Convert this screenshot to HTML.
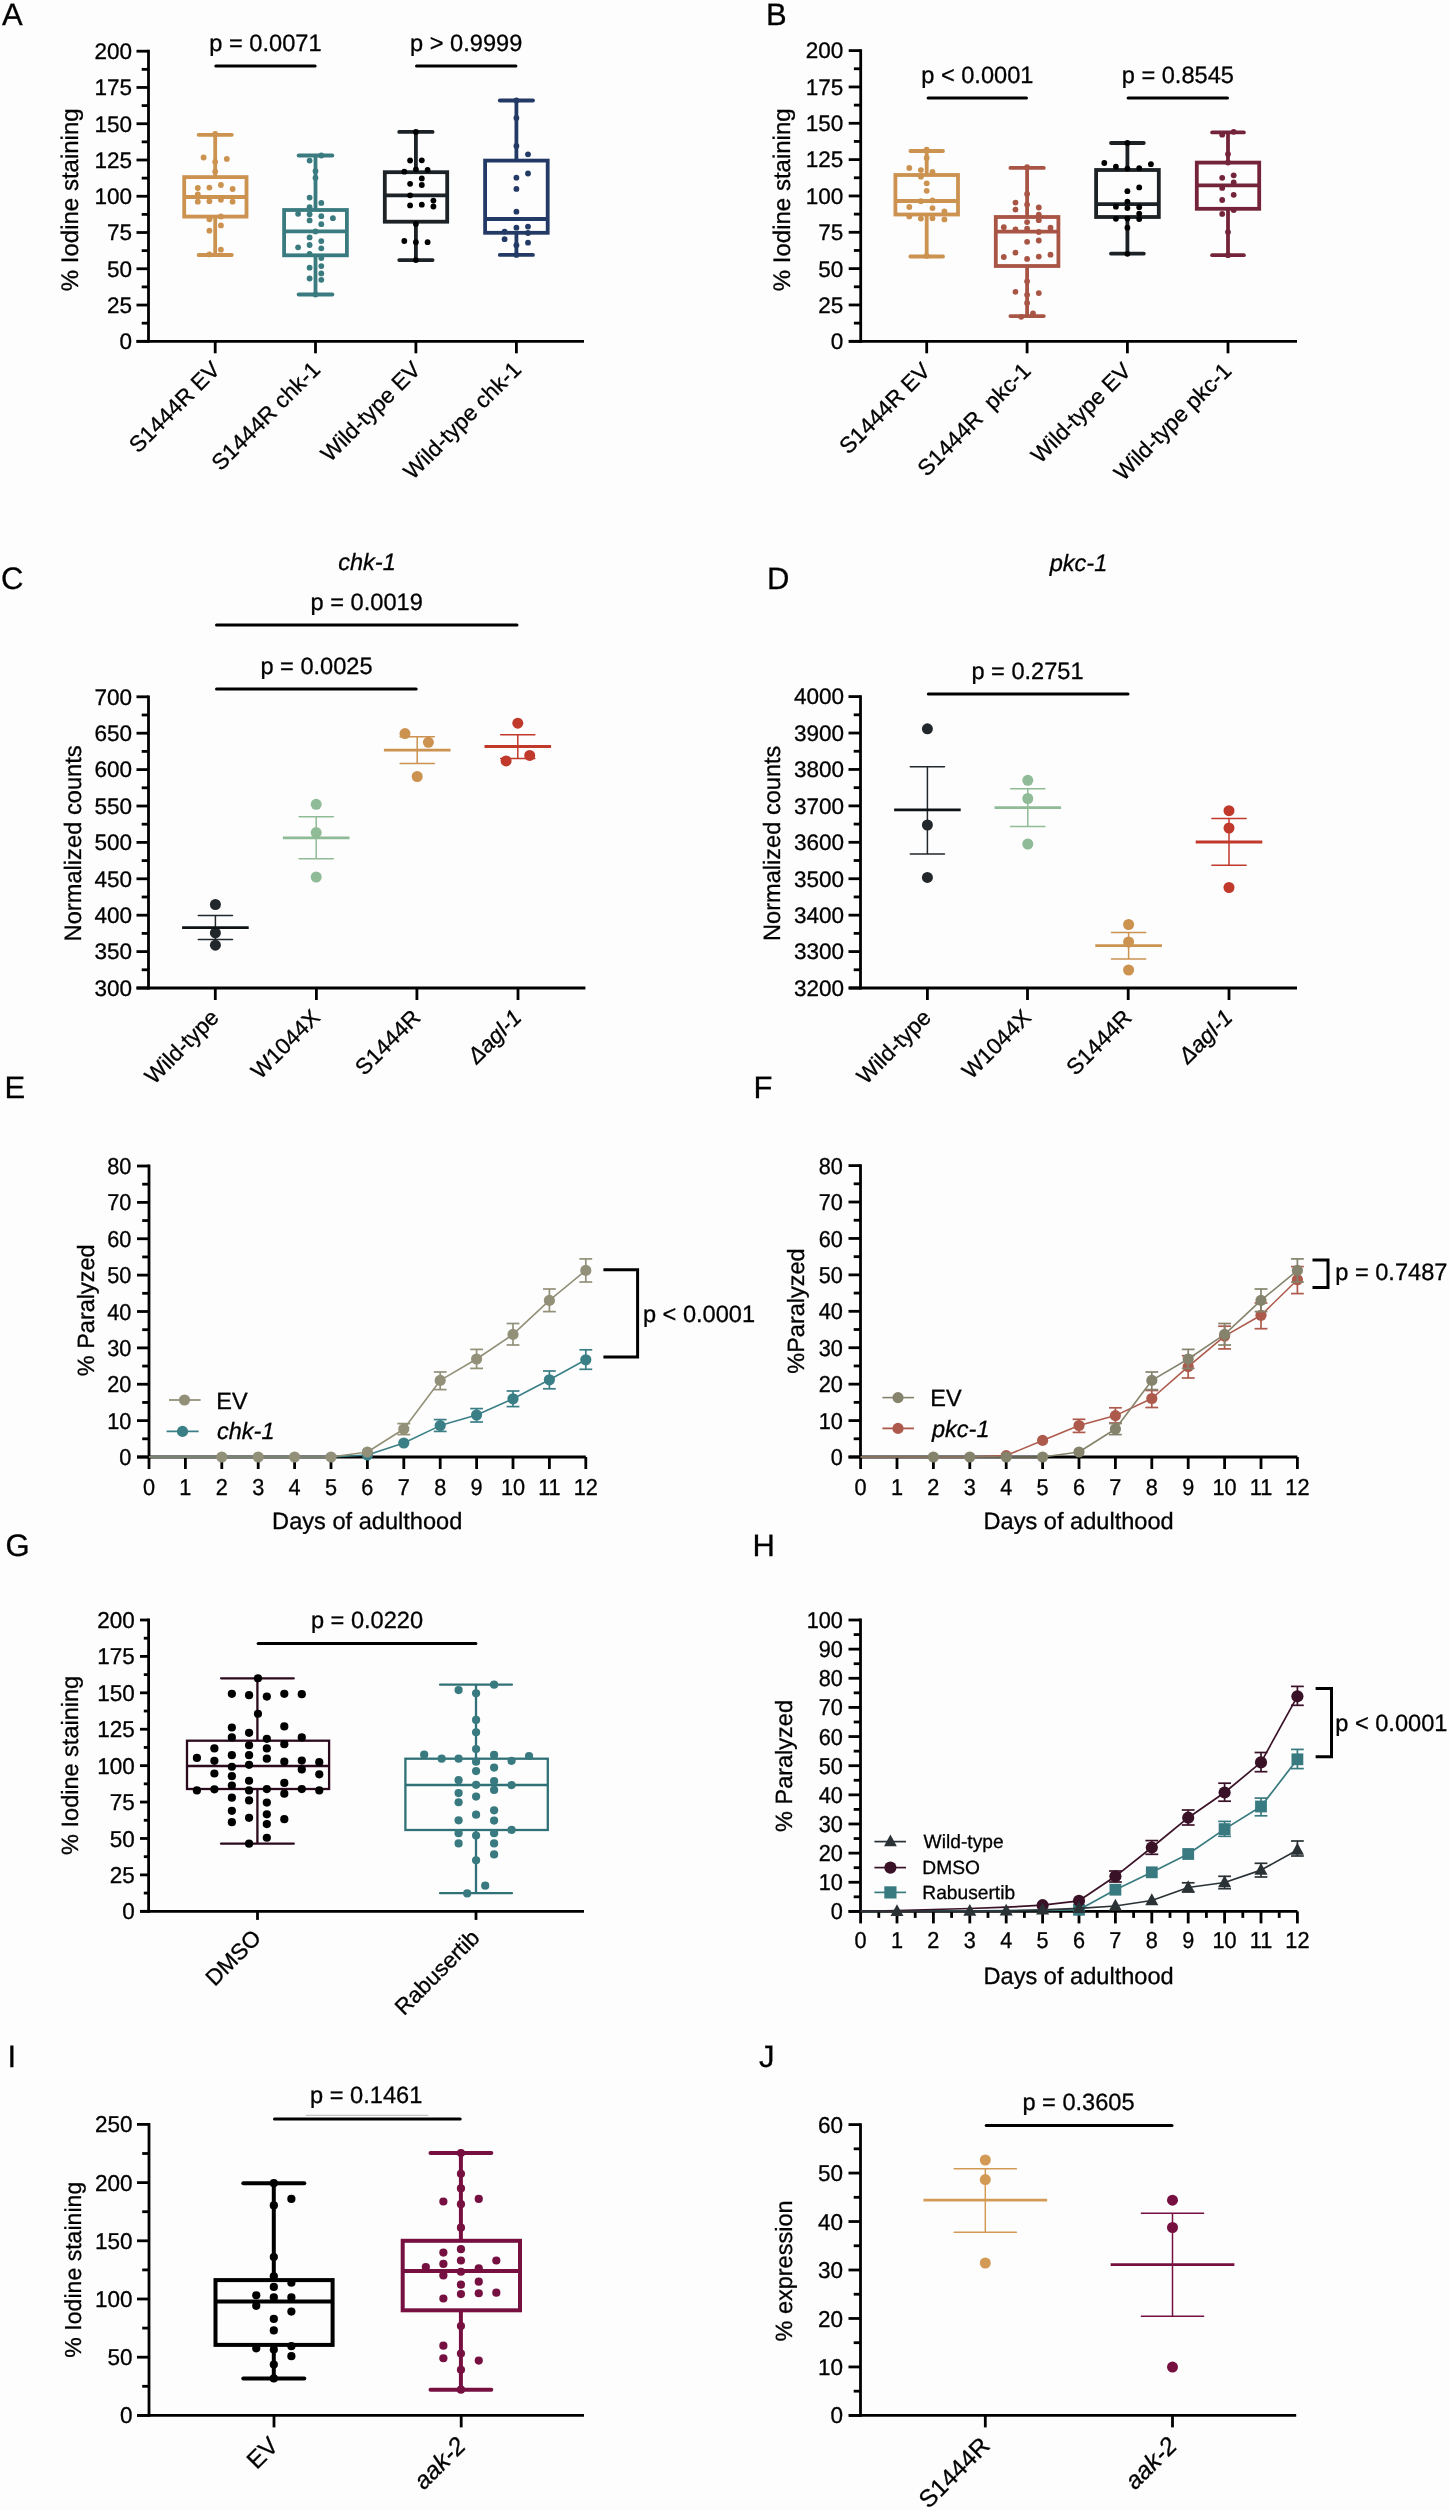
<!DOCTYPE html>
<html><head><meta charset="utf-8"><title>Figure</title>
<style>
html,body{margin:0;padding:0;background:#fdfdfd;}
body{width:1450px;height:2510px;overflow:hidden;}
svg{display:block;font-family:"Liberation Sans",sans-serif;will-change:transform;text-rendering:geometricPrecision;}
</style></head><body>
<svg width="1450" height="2510" viewBox="0 0 1450 2510"><text transform="translate(2 25)" font-size="31" stroke="#000" stroke-width="0.3">A</text>
<line x1="148.5" y1="49.8" x2="148.5" y2="342.7" stroke="#000" stroke-width="2.8"/>
<line x1="136.5" y1="341.3" x2="148.5" y2="341.3" stroke="#000" stroke-width="2.8"/>
<text transform="translate(132 349.18)" font-size="22.5" text-anchor="end" stroke="#000" stroke-width="0.3">0</text>
<line x1="136.5" y1="305.04" x2="148.5" y2="305.04" stroke="#000" stroke-width="2.8"/>
<text transform="translate(132 312.91)" font-size="22.5" text-anchor="end" stroke="#000" stroke-width="0.3">25</text>
<line x1="136.5" y1="268.77" x2="148.5" y2="268.77" stroke="#000" stroke-width="2.8"/>
<text transform="translate(132 276.65)" font-size="22.5" text-anchor="end" stroke="#000" stroke-width="0.3">50</text>
<line x1="136.5" y1="232.51" x2="148.5" y2="232.51" stroke="#000" stroke-width="2.8"/>
<text transform="translate(132 240.39)" font-size="22.5" text-anchor="end" stroke="#000" stroke-width="0.3">75</text>
<line x1="136.5" y1="196.25" x2="148.5" y2="196.25" stroke="#000" stroke-width="2.8"/>
<text transform="translate(132 204.12)" font-size="22.5" text-anchor="end" stroke="#000" stroke-width="0.3">100</text>
<line x1="136.5" y1="159.99" x2="148.5" y2="159.99" stroke="#000" stroke-width="2.8"/>
<text transform="translate(132 167.86)" font-size="22.5" text-anchor="end" stroke="#000" stroke-width="0.3">125</text>
<line x1="136.5" y1="123.73" x2="148.5" y2="123.73" stroke="#000" stroke-width="2.8"/>
<text transform="translate(132 131.6)" font-size="22.5" text-anchor="end" stroke="#000" stroke-width="0.3">150</text>
<line x1="136.5" y1="87.46" x2="148.5" y2="87.46" stroke="#000" stroke-width="2.8"/>
<text transform="translate(132 95.34)" font-size="22.5" text-anchor="end" stroke="#000" stroke-width="0.3">175</text>
<line x1="136.5" y1="51.2" x2="148.5" y2="51.2" stroke="#000" stroke-width="2.8"/>
<text transform="translate(132 59.07)" font-size="22.5" text-anchor="end" stroke="#000" stroke-width="0.3">200</text>
<line x1="141.7" y1="323.17" x2="148.5" y2="323.17" stroke="#000" stroke-width="2.8"/>
<line x1="141.7" y1="286.91" x2="148.5" y2="286.91" stroke="#000" stroke-width="2.8"/>
<line x1="141.7" y1="250.64" x2="148.5" y2="250.64" stroke="#000" stroke-width="2.8"/>
<line x1="141.7" y1="214.38" x2="148.5" y2="214.38" stroke="#000" stroke-width="2.8"/>
<line x1="141.7" y1="178.12" x2="148.5" y2="178.12" stroke="#000" stroke-width="2.8"/>
<line x1="141.7" y1="141.86" x2="148.5" y2="141.86" stroke="#000" stroke-width="2.8"/>
<line x1="141.7" y1="105.59" x2="148.5" y2="105.59" stroke="#000" stroke-width="2.8"/>
<line x1="141.7" y1="69.33" x2="148.5" y2="69.33" stroke="#000" stroke-width="2.8"/>
<line x1="136.5" y1="341.3" x2="584" y2="341.3" stroke="#000" stroke-width="2.8"/>
<line x1="215.2" y1="341.3" x2="215.2" y2="353.3" stroke="#000" stroke-width="2.8"/>
<line x1="315.5" y1="341.3" x2="315.5" y2="353.3" stroke="#000" stroke-width="2.8"/>
<line x1="415.9" y1="341.3" x2="415.9" y2="353.3" stroke="#000" stroke-width="2.8"/>
<line x1="516.4" y1="341.3" x2="516.4" y2="353.3" stroke="#000" stroke-width="2.8"/>
<text transform="translate(78 199.8) rotate(-90)" font-size="24" text-anchor="middle" stroke="#000" stroke-width="0.3">% Iodine staining</text>
<line x1="215.8" y1="66.1" x2="315.1" y2="66.1" stroke="#000" stroke-width="3" stroke-linecap="round"/>
<text transform="translate(265.45 51)" font-size="23.6" text-anchor="middle" stroke="#000" stroke-width="0.3">p = 0.0071</text>
<line x1="416.5" y1="66.1" x2="515.9" y2="66.1" stroke="#000" stroke-width="3" stroke-linecap="round"/>
<text transform="translate(466.2 51)" font-size="23.6" text-anchor="middle" stroke="#000" stroke-width="0.3">p > 0.9999</text>
<line x1="198.6" y1="134.8" x2="231.8" y2="134.8" stroke="#cb9250" stroke-width="3.8" stroke-linecap="round"/>
<line x1="215.2" y1="134.8" x2="215.2" y2="177.1" stroke="#cb9250" stroke-width="3.8"/>
<line x1="215.2" y1="216.6" x2="215.2" y2="255" stroke="#cb9250" stroke-width="3.8"/>
<line x1="198.6" y1="255" x2="231.8" y2="255" stroke="#cb9250" stroke-width="3.8" stroke-linecap="round"/>
<rect x="184.2" y="177.1" width="62.3" height="39.5" fill="none" stroke="#cb9250" stroke-width="3.8"/>
<line x1="184.2" y1="197" x2="246.5" y2="197" stroke="#cb9250" stroke-width="3.8"/>
<circle cx="215.2" cy="133.9" r="2.9" fill="#cb9250"/>
<circle cx="203.6" cy="157.5" r="2.9" fill="#cb9250"/>
<circle cx="226.8" cy="158.9" r="2.9" fill="#cb9250"/>
<circle cx="215.2" cy="161.8" r="2.9" fill="#cb9250"/>
<circle cx="215.2" cy="171.6" r="2.9" fill="#cb9250"/>
<circle cx="197.8" cy="188" r="2.9" fill="#cb9250"/>
<circle cx="209.4" cy="187.6" r="2.9" fill="#cb9250"/>
<circle cx="220.9" cy="185" r="2.9" fill="#cb9250"/>
<circle cx="232.6" cy="189" r="2.9" fill="#cb9250"/>
<circle cx="197.8" cy="194.5" r="2.9" fill="#cb9250"/>
<circle cx="197.8" cy="201.7" r="2.9" fill="#cb9250"/>
<circle cx="209.4" cy="201.2" r="2.9" fill="#cb9250"/>
<circle cx="220.9" cy="199.8" r="2.9" fill="#cb9250"/>
<circle cx="232.6" cy="201.7" r="2.9" fill="#cb9250"/>
<circle cx="209.4" cy="219.3" r="2.9" fill="#cb9250"/>
<circle cx="220.9" cy="216.5" r="2.9" fill="#cb9250"/>
<circle cx="220.9" cy="225.4" r="2.9" fill="#cb9250"/>
<circle cx="209.4" cy="230.7" r="2.9" fill="#cb9250"/>
<circle cx="220.9" cy="249.7" r="2.9" fill="#cb9250"/>
<circle cx="209.4" cy="254.4" r="2.9" fill="#cb9250"/>
<line x1="298.6" y1="155.5" x2="332.4" y2="155.5" stroke="#3a7b80" stroke-width="3.8" stroke-linecap="round"/>
<line x1="315.5" y1="155.5" x2="315.5" y2="210" stroke="#3a7b80" stroke-width="3.8"/>
<line x1="315.5" y1="255.3" x2="315.5" y2="294.5" stroke="#3a7b80" stroke-width="3.8"/>
<line x1="298.6" y1="294.5" x2="332.4" y2="294.5" stroke="#3a7b80" stroke-width="3.8" stroke-linecap="round"/>
<rect x="284.1" y="210" width="62.8" height="45.3" fill="none" stroke="#3a7b80" stroke-width="3.8"/>
<line x1="284.1" y1="231.4" x2="346.9" y2="231.4" stroke="#3a7b80" stroke-width="3.8"/>
<circle cx="321.3" cy="155.5" r="2.9" fill="#3a7b80"/>
<circle cx="309.6" cy="160.6" r="2.9" fill="#3a7b80"/>
<circle cx="315.5" cy="171.1" r="2.9" fill="#3a7b80"/>
<circle cx="315.5" cy="177.8" r="2.9" fill="#3a7b80"/>
<circle cx="309.6" cy="197.6" r="2.9" fill="#3a7b80"/>
<circle cx="321.3" cy="202.9" r="2.9" fill="#3a7b80"/>
<circle cx="309.6" cy="207.2" r="2.9" fill="#3a7b80"/>
<circle cx="298.1" cy="213.8" r="2.9" fill="#3a7b80"/>
<circle cx="309.6" cy="214.2" r="2.9" fill="#3a7b80"/>
<circle cx="321.3" cy="216.2" r="2.9" fill="#3a7b80"/>
<circle cx="332.9" cy="218.2" r="2.9" fill="#3a7b80"/>
<circle cx="309.6" cy="220.4" r="2.9" fill="#3a7b80"/>
<circle cx="321.3" cy="224.2" r="2.9" fill="#3a7b80"/>
<circle cx="315.5" cy="231.4" r="2.9" fill="#3a7b80"/>
<circle cx="309.6" cy="237.4" r="2.9" fill="#3a7b80"/>
<circle cx="321.3" cy="241.1" r="2.9" fill="#3a7b80"/>
<circle cx="309.6" cy="245" r="2.9" fill="#3a7b80"/>
<circle cx="298.1" cy="247.3" r="2.9" fill="#3a7b80"/>
<circle cx="321.3" cy="248.3" r="2.9" fill="#3a7b80"/>
<circle cx="309.6" cy="254" r="2.9" fill="#3a7b80"/>
<circle cx="321.3" cy="258" r="2.9" fill="#3a7b80"/>
<circle cx="309.6" cy="267.7" r="2.9" fill="#3a7b80"/>
<circle cx="321.3" cy="266.1" r="2.9" fill="#3a7b80"/>
<circle cx="321.3" cy="273.4" r="2.9" fill="#3a7b80"/>
<circle cx="309.6" cy="278.5" r="2.9" fill="#3a7b80"/>
<circle cx="321.3" cy="279.8" r="2.9" fill="#3a7b80"/>
<circle cx="315.5" cy="294.5" r="2.9" fill="#3a7b80"/>
<line x1="399.2" y1="131.9" x2="432.6" y2="131.9" stroke="#1c2226" stroke-width="3.8" stroke-linecap="round"/>
<line x1="415.9" y1="131.9" x2="415.9" y2="172.2" stroke="#1c2226" stroke-width="3.8"/>
<line x1="415.9" y1="221.7" x2="415.9" y2="260.1" stroke="#1c2226" stroke-width="3.8"/>
<line x1="399.2" y1="260.1" x2="432.6" y2="260.1" stroke="#1c2226" stroke-width="3.8" stroke-linecap="round"/>
<rect x="384.8" y="172.2" width="62.4" height="49.5" fill="none" stroke="#1c2226" stroke-width="3.8"/>
<line x1="384.8" y1="195.3" x2="447.2" y2="195.3" stroke="#1c2226" stroke-width="3.8"/>
<circle cx="415.9" cy="131.9" r="2.9" fill="#000"/>
<circle cx="410.1" cy="160.5" r="2.9" fill="#000"/>
<circle cx="421.8" cy="160.3" r="2.9" fill="#000"/>
<circle cx="404.3" cy="171.7" r="2.9" fill="#000"/>
<circle cx="415.9" cy="169.3" r="2.9" fill="#000"/>
<circle cx="427.6" cy="169.9" r="2.9" fill="#000"/>
<circle cx="421.8" cy="178.4" r="2.9" fill="#000"/>
<circle cx="410.1" cy="183.8" r="2.9" fill="#000"/>
<circle cx="421.8" cy="185" r="2.9" fill="#000"/>
<circle cx="410.1" cy="195.3" r="2.9" fill="#000"/>
<circle cx="433.4" cy="200.6" r="2.9" fill="#000"/>
<circle cx="410.1" cy="205.4" r="2.9" fill="#000"/>
<circle cx="421.8" cy="204.7" r="2.9" fill="#000"/>
<circle cx="433.4" cy="206.5" r="2.9" fill="#000"/>
<circle cx="415.9" cy="224" r="2.9" fill="#000"/>
<circle cx="404.3" cy="241" r="2.9" fill="#000"/>
<circle cx="415.9" cy="242.2" r="2.9" fill="#000"/>
<circle cx="427.6" cy="242.2" r="2.9" fill="#000"/>
<circle cx="415.9" cy="260.1" r="2.9" fill="#000"/>
<line x1="499.8" y1="100.5" x2="533" y2="100.5" stroke="#243a66" stroke-width="3.8" stroke-linecap="round"/>
<line x1="516.4" y1="100.5" x2="516.4" y2="160.6" stroke="#243a66" stroke-width="3.8"/>
<line x1="516.4" y1="232.8" x2="516.4" y2="254.9" stroke="#243a66" stroke-width="3.8"/>
<line x1="499.8" y1="254.9" x2="533" y2="254.9" stroke="#243a66" stroke-width="3.8" stroke-linecap="round"/>
<rect x="485.1" y="160.6" width="62.6" height="72.2" fill="none" stroke="#243a66" stroke-width="3.8"/>
<line x1="485.1" y1="219" x2="547.7" y2="219" stroke="#243a66" stroke-width="3.8"/>
<circle cx="516.4" cy="100.5" r="2.9" fill="#243a66"/>
<circle cx="516.4" cy="118" r="2.9" fill="#243a66"/>
<circle cx="516.4" cy="145.9" r="2.9" fill="#243a66"/>
<circle cx="528" cy="154.3" r="2.9" fill="#243a66"/>
<circle cx="528" cy="173.5" r="2.9" fill="#243a66"/>
<circle cx="516.4" cy="177.7" r="2.9" fill="#243a66"/>
<circle cx="516.4" cy="188.9" r="2.9" fill="#243a66"/>
<circle cx="516.4" cy="211.7" r="2.9" fill="#243a66"/>
<circle cx="516.4" cy="227.7" r="2.9" fill="#243a66"/>
<circle cx="528" cy="226.6" r="2.9" fill="#243a66"/>
<circle cx="504.6" cy="231.6" r="2.9" fill="#243a66"/>
<circle cx="528" cy="233" r="2.9" fill="#243a66"/>
<circle cx="504.6" cy="239.2" r="2.9" fill="#243a66"/>
<circle cx="516.4" cy="245.2" r="2.9" fill="#243a66"/>
<circle cx="528" cy="242.7" r="2.9" fill="#243a66"/>
<circle cx="516.4" cy="254.9" r="2.9" fill="#243a66"/>
<text transform="translate(221.29 370.89) rotate(-45)" font-size="22.5" text-anchor="end" stroke="#000" stroke-width="0.3">S1444R EV</text>
<text transform="translate(321.59 370.89) rotate(-45)" font-size="22.5" text-anchor="end" stroke="#000" stroke-width="0.3">S1444R chk-1</text>
<text transform="translate(421.99 370.89) rotate(-45)" font-size="22.5" text-anchor="end" stroke="#000" stroke-width="0.3">Wild-type EV</text>
<text transform="translate(522.49 370.89) rotate(-45)" font-size="22.5" text-anchor="end" stroke="#000" stroke-width="0.3">Wild-type chk-1</text>
<text transform="translate(766 25)" font-size="31" stroke="#000" stroke-width="0.3">B</text>
<line x1="860.7" y1="49.2" x2="860.7" y2="342.7" stroke="#000" stroke-width="2.8"/>
<line x1="848.7" y1="341.3" x2="860.7" y2="341.3" stroke="#000" stroke-width="2.8"/>
<text transform="translate(843.3 349.18)" font-size="22.5" text-anchor="end" stroke="#000" stroke-width="0.3">0</text>
<line x1="848.7" y1="304.96" x2="860.7" y2="304.96" stroke="#000" stroke-width="2.8"/>
<text transform="translate(843.3 312.84)" font-size="22.5" text-anchor="end" stroke="#000" stroke-width="0.3">25</text>
<line x1="848.7" y1="268.62" x2="860.7" y2="268.62" stroke="#000" stroke-width="2.8"/>
<text transform="translate(843.3 276.5)" font-size="22.5" text-anchor="end" stroke="#000" stroke-width="0.3">50</text>
<line x1="848.7" y1="232.29" x2="860.7" y2="232.29" stroke="#000" stroke-width="2.8"/>
<text transform="translate(843.3 240.16)" font-size="22.5" text-anchor="end" stroke="#000" stroke-width="0.3">75</text>
<line x1="848.7" y1="195.95" x2="860.7" y2="195.95" stroke="#000" stroke-width="2.8"/>
<text transform="translate(843.3 203.83)" font-size="22.5" text-anchor="end" stroke="#000" stroke-width="0.3">100</text>
<line x1="848.7" y1="159.61" x2="860.7" y2="159.61" stroke="#000" stroke-width="2.8"/>
<text transform="translate(843.3 167.49)" font-size="22.5" text-anchor="end" stroke="#000" stroke-width="0.3">125</text>
<line x1="848.7" y1="123.28" x2="860.7" y2="123.28" stroke="#000" stroke-width="2.8"/>
<text transform="translate(843.3 131.15)" font-size="22.5" text-anchor="end" stroke="#000" stroke-width="0.3">150</text>
<line x1="848.7" y1="86.94" x2="860.7" y2="86.94" stroke="#000" stroke-width="2.8"/>
<text transform="translate(843.3 94.81)" font-size="22.5" text-anchor="end" stroke="#000" stroke-width="0.3">175</text>
<line x1="848.7" y1="50.6" x2="860.7" y2="50.6" stroke="#000" stroke-width="2.8"/>
<text transform="translate(843.3 58.48)" font-size="22.5" text-anchor="end" stroke="#000" stroke-width="0.3">200</text>
<line x1="853.9" y1="323.13" x2="860.7" y2="323.13" stroke="#000" stroke-width="2.8"/>
<line x1="853.9" y1="286.79" x2="860.7" y2="286.79" stroke="#000" stroke-width="2.8"/>
<line x1="853.9" y1="250.46" x2="860.7" y2="250.46" stroke="#000" stroke-width="2.8"/>
<line x1="853.9" y1="214.12" x2="860.7" y2="214.12" stroke="#000" stroke-width="2.8"/>
<line x1="853.9" y1="177.78" x2="860.7" y2="177.78" stroke="#000" stroke-width="2.8"/>
<line x1="853.9" y1="141.44" x2="860.7" y2="141.44" stroke="#000" stroke-width="2.8"/>
<line x1="853.9" y1="105.11" x2="860.7" y2="105.11" stroke="#000" stroke-width="2.8"/>
<line x1="853.9" y1="68.77" x2="860.7" y2="68.77" stroke="#000" stroke-width="2.8"/>
<line x1="848.8" y1="341.3" x2="1297" y2="341.3" stroke="#000" stroke-width="2.8"/>
<line x1="926.7" y1="341.3" x2="926.7" y2="353.3" stroke="#000" stroke-width="2.8"/>
<line x1="1027.1" y1="341.3" x2="1027.1" y2="353.3" stroke="#000" stroke-width="2.8"/>
<line x1="1127.4" y1="341.3" x2="1127.4" y2="353.3" stroke="#000" stroke-width="2.8"/>
<line x1="1228" y1="341.3" x2="1228" y2="353.3" stroke="#000" stroke-width="2.8"/>
<text transform="translate(790 199.8) rotate(-90)" font-size="24" text-anchor="middle" stroke="#000" stroke-width="0.3">% Iodine staining</text>
<line x1="928.1" y1="98" x2="1026.5" y2="98" stroke="#000" stroke-width="3" stroke-linecap="round"/>
<text transform="translate(977.3 83.3)" font-size="23.6" text-anchor="middle" stroke="#000" stroke-width="0.3">p &lt; 0.0001</text>
<line x1="1128.1" y1="98" x2="1227.5" y2="98" stroke="#000" stroke-width="3" stroke-linecap="round"/>
<text transform="translate(1177.8 83.3)" font-size="23.6" text-anchor="middle" stroke="#000" stroke-width="0.3">p = 0.8545</text>
<line x1="910.4" y1="151" x2="943" y2="151" stroke="#cb9250" stroke-width="3.8" stroke-linecap="round"/>
<line x1="926.7" y1="151" x2="926.7" y2="175" stroke="#cb9250" stroke-width="3.8"/>
<line x1="926.7" y1="214.5" x2="926.7" y2="256.5" stroke="#cb9250" stroke-width="3.8"/>
<line x1="910.4" y1="256.5" x2="943" y2="256.5" stroke="#cb9250" stroke-width="3.8" stroke-linecap="round"/>
<rect x="895.4" y="175" width="62.6" height="39.5" fill="none" stroke="#cb9250" stroke-width="3.8"/>
<line x1="895.4" y1="201" x2="958" y2="201" stroke="#cb9250" stroke-width="3.8"/>
<circle cx="926.7" cy="149.7" r="2.9" fill="#cb9250"/>
<circle cx="926.7" cy="157.9" r="2.9" fill="#cb9250"/>
<circle cx="909.3" cy="168" r="2.9" fill="#cb9250"/>
<circle cx="920.9" cy="170.1" r="2.9" fill="#cb9250"/>
<circle cx="932.5" cy="172" r="2.9" fill="#cb9250"/>
<circle cx="920.9" cy="176.7" r="2.9" fill="#cb9250"/>
<circle cx="926.7" cy="183.3" r="2.9" fill="#cb9250"/>
<circle cx="926.7" cy="190.8" r="2.9" fill="#cb9250"/>
<circle cx="920.9" cy="201.2" r="2.9" fill="#cb9250"/>
<circle cx="932.5" cy="200.4" r="2.9" fill="#cb9250"/>
<circle cx="909.3" cy="207" r="2.9" fill="#cb9250"/>
<circle cx="932.5" cy="208.1" r="2.9" fill="#cb9250"/>
<circle cx="944.4" cy="211.4" r="2.9" fill="#cb9250"/>
<circle cx="909.3" cy="216.4" r="2.9" fill="#cb9250"/>
<circle cx="920.9" cy="218.6" r="2.9" fill="#cb9250"/>
<circle cx="932.5" cy="218.3" r="2.9" fill="#cb9250"/>
<circle cx="944.4" cy="219.4" r="2.9" fill="#cb9250"/>
<circle cx="926.7" cy="255.9" r="2.9" fill="#cb9250"/>
<line x1="1010.4" y1="167.9" x2="1043.8" y2="167.9" stroke="#a85545" stroke-width="3.8" stroke-linecap="round"/>
<line x1="1027.1" y1="167.9" x2="1027.1" y2="217" stroke="#a85545" stroke-width="3.8"/>
<line x1="1027.1" y1="266" x2="1027.1" y2="316.1" stroke="#a85545" stroke-width="3.8"/>
<line x1="1010.4" y1="316.1" x2="1043.8" y2="316.1" stroke="#a85545" stroke-width="3.8" stroke-linecap="round"/>
<rect x="995.8" y="217" width="62.6" height="49" fill="none" stroke="#a85545" stroke-width="3.8"/>
<line x1="995.8" y1="231.7" x2="1058.4" y2="231.7" stroke="#a85545" stroke-width="3.8"/>
<circle cx="1027.1" cy="167.2" r="2.9" fill="#a85545"/>
<circle cx="1027.1" cy="193.9" r="2.9" fill="#a85545"/>
<circle cx="1015.5" cy="202.6" r="2.9" fill="#a85545"/>
<circle cx="1027.1" cy="204.6" r="2.9" fill="#a85545"/>
<circle cx="1038.8" cy="207.5" r="2.9" fill="#a85545"/>
<circle cx="1015.5" cy="209.6" r="2.9" fill="#a85545"/>
<circle cx="1038.8" cy="214.6" r="2.9" fill="#a85545"/>
<circle cx="1038.8" cy="220.2" r="2.9" fill="#a85545"/>
<circle cx="1027.1" cy="222.1" r="2.9" fill="#a85545"/>
<circle cx="1003.8" cy="227.2" r="2.9" fill="#a85545"/>
<circle cx="1015.5" cy="229.4" r="2.9" fill="#a85545"/>
<circle cx="1027.1" cy="228.7" r="2.9" fill="#a85545"/>
<circle cx="1050.5" cy="227.7" r="2.9" fill="#a85545"/>
<circle cx="1038.8" cy="232" r="2.9" fill="#a85545"/>
<circle cx="1027.1" cy="241.8" r="2.9" fill="#a85545"/>
<circle cx="1038.8" cy="240.5" r="2.9" fill="#a85545"/>
<circle cx="1015.5" cy="252.7" r="2.9" fill="#a85545"/>
<circle cx="1003.8" cy="257" r="2.9" fill="#a85545"/>
<circle cx="1027.1" cy="258.9" r="2.9" fill="#a85545"/>
<circle cx="1038.8" cy="256.6" r="2.9" fill="#a85545"/>
<circle cx="1050.5" cy="254.7" r="2.9" fill="#a85545"/>
<circle cx="1027.1" cy="281.3" r="2.9" fill="#a85545"/>
<circle cx="1015.5" cy="291.8" r="2.9" fill="#a85545"/>
<circle cx="1038.8" cy="293.1" r="2.9" fill="#a85545"/>
<circle cx="1027.1" cy="294.8" r="2.9" fill="#a85545"/>
<circle cx="1027.1" cy="303" r="2.9" fill="#a85545"/>
<circle cx="1033" cy="313.5" r="2.9" fill="#a85545"/>
<circle cx="1021.2" cy="316.8" r="2.9" fill="#a85545"/>
<line x1="1111" y1="143" x2="1143.8" y2="143" stroke="#1c2226" stroke-width="3.8" stroke-linecap="round"/>
<line x1="1127.4" y1="143" x2="1127.4" y2="170" stroke="#1c2226" stroke-width="3.8"/>
<line x1="1127.4" y1="217" x2="1127.4" y2="253.6" stroke="#1c2226" stroke-width="3.8"/>
<line x1="1111" y1="253.6" x2="1143.8" y2="253.6" stroke="#1c2226" stroke-width="3.8" stroke-linecap="round"/>
<rect x="1096.1" y="170" width="62.7" height="47" fill="none" stroke="#1c2226" stroke-width="3.8"/>
<line x1="1096.1" y1="204.2" x2="1158.8" y2="204.2" stroke="#1c2226" stroke-width="3.8"/>
<circle cx="1127.4" cy="143" r="2.9" fill="#000"/>
<circle cx="1104.3" cy="163" r="2.9" fill="#000"/>
<circle cx="1115.9" cy="166.7" r="2.9" fill="#000"/>
<circle cx="1127.4" cy="168.6" r="2.9" fill="#000"/>
<circle cx="1139.2" cy="168.1" r="2.9" fill="#000"/>
<circle cx="1150.9" cy="164.2" r="2.9" fill="#000"/>
<circle cx="1139.2" cy="187.4" r="2.9" fill="#000"/>
<circle cx="1127.4" cy="191.2" r="2.9" fill="#000"/>
<circle cx="1127.4" cy="201.7" r="2.9" fill="#000"/>
<circle cx="1115.9" cy="206.7" r="2.9" fill="#000"/>
<circle cx="1127.4" cy="208.1" r="2.9" fill="#000"/>
<circle cx="1139.2" cy="207.2" r="2.9" fill="#000"/>
<circle cx="1139.2" cy="213.6" r="2.9" fill="#000"/>
<circle cx="1115.9" cy="218.8" r="2.9" fill="#000"/>
<circle cx="1127.4" cy="218.6" r="2.9" fill="#000"/>
<circle cx="1139.2" cy="219.1" r="2.9" fill="#000"/>
<circle cx="1127.4" cy="227.7" r="2.9" fill="#000"/>
<circle cx="1127.4" cy="253.9" r="2.9" fill="#000"/>
<line x1="1212.1" y1="132.4" x2="1243.9" y2="132.4" stroke="#74243a" stroke-width="3.8" stroke-linecap="round"/>
<line x1="1228" y1="132.4" x2="1228" y2="162.6" stroke="#74243a" stroke-width="3.8"/>
<line x1="1228" y1="208.8" x2="1228" y2="255.2" stroke="#74243a" stroke-width="3.8"/>
<line x1="1212.1" y1="255.2" x2="1243.9" y2="255.2" stroke="#74243a" stroke-width="3.8" stroke-linecap="round"/>
<rect x="1196.8" y="162.6" width="62.4" height="46.2" fill="none" stroke="#74243a" stroke-width="3.8"/>
<line x1="1196.8" y1="185.3" x2="1259.2" y2="185.3" stroke="#74243a" stroke-width="3.8"/>
<circle cx="1233.7" cy="131.8" r="2.9" fill="#74243a"/>
<circle cx="1222.2" cy="134.7" r="2.9" fill="#74243a"/>
<circle cx="1228" cy="154.1" r="2.9" fill="#74243a"/>
<circle cx="1228" cy="162.5" r="2.9" fill="#74243a"/>
<circle cx="1222.2" cy="177.8" r="2.9" fill="#74243a"/>
<circle cx="1233.7" cy="175.3" r="2.9" fill="#74243a"/>
<circle cx="1233.7" cy="182.4" r="2.9" fill="#74243a"/>
<circle cx="1222.2" cy="187.9" r="2.9" fill="#74243a"/>
<circle cx="1233.7" cy="194.8" r="2.9" fill="#74243a"/>
<circle cx="1222.2" cy="200" r="2.9" fill="#74243a"/>
<circle cx="1222.2" cy="213.9" r="2.9" fill="#74243a"/>
<circle cx="1233.7" cy="210.1" r="2.9" fill="#74243a"/>
<circle cx="1228" cy="232.1" r="2.9" fill="#74243a"/>
<circle cx="1228" cy="255.2" r="2.9" fill="#74243a"/>
<text transform="translate(931.59 372.19) rotate(-45)" font-size="22.5" text-anchor="end" stroke="#000" stroke-width="0.3">S1444R EV</text>
<text transform="translate(1031.99 372.19) rotate(-45)" font-size="22.5" text-anchor="end" stroke="#000" stroke-width="0.3">S1444R&#160; pkc-1</text>
<text transform="translate(1132.29 372.19) rotate(-45)" font-size="22.5" text-anchor="end" stroke="#000" stroke-width="0.3">Wild-type EV</text>
<text transform="translate(1232.89 372.19) rotate(-45)" font-size="22.5" text-anchor="end" stroke="#000" stroke-width="0.3">Wild-type pkc-1</text>
<text transform="translate(1 589)" font-size="31" stroke="#000" stroke-width="0.3">C</text>
<line x1="148.5" y1="695.4" x2="148.5" y2="989.4" stroke="#000" stroke-width="2.8"/>
<line x1="136.5" y1="988" x2="148.5" y2="988" stroke="#000" stroke-width="2.8"/>
<text transform="translate(132 995.88)" font-size="22.5" text-anchor="end" stroke="#000" stroke-width="0.3">300</text>
<line x1="136.5" y1="951.6" x2="148.5" y2="951.6" stroke="#000" stroke-width="2.8"/>
<text transform="translate(132 959.48)" font-size="22.5" text-anchor="end" stroke="#000" stroke-width="0.3">350</text>
<line x1="136.5" y1="915.2" x2="148.5" y2="915.2" stroke="#000" stroke-width="2.8"/>
<text transform="translate(132 923.08)" font-size="22.5" text-anchor="end" stroke="#000" stroke-width="0.3">400</text>
<line x1="136.5" y1="878.8" x2="148.5" y2="878.8" stroke="#000" stroke-width="2.8"/>
<text transform="translate(132 886.67)" font-size="22.5" text-anchor="end" stroke="#000" stroke-width="0.3">450</text>
<line x1="136.5" y1="842.4" x2="148.5" y2="842.4" stroke="#000" stroke-width="2.8"/>
<text transform="translate(132 850.27)" font-size="22.5" text-anchor="end" stroke="#000" stroke-width="0.3">500</text>
<line x1="136.5" y1="806" x2="148.5" y2="806" stroke="#000" stroke-width="2.8"/>
<text transform="translate(132 813.88)" font-size="22.5" text-anchor="end" stroke="#000" stroke-width="0.3">550</text>
<line x1="136.5" y1="769.6" x2="148.5" y2="769.6" stroke="#000" stroke-width="2.8"/>
<text transform="translate(132 777.47)" font-size="22.5" text-anchor="end" stroke="#000" stroke-width="0.3">600</text>
<line x1="136.5" y1="733.2" x2="148.5" y2="733.2" stroke="#000" stroke-width="2.8"/>
<text transform="translate(132 741.07)" font-size="22.5" text-anchor="end" stroke="#000" stroke-width="0.3">650</text>
<line x1="136.5" y1="696.8" x2="148.5" y2="696.8" stroke="#000" stroke-width="2.8"/>
<text transform="translate(132 704.67)" font-size="22.5" text-anchor="end" stroke="#000" stroke-width="0.3">700</text>
<line x1="141.7" y1="969.8" x2="148.5" y2="969.8" stroke="#000" stroke-width="2.8"/>
<line x1="141.7" y1="933.4" x2="148.5" y2="933.4" stroke="#000" stroke-width="2.8"/>
<line x1="141.7" y1="897" x2="148.5" y2="897" stroke="#000" stroke-width="2.8"/>
<line x1="141.7" y1="860.6" x2="148.5" y2="860.6" stroke="#000" stroke-width="2.8"/>
<line x1="141.7" y1="824.2" x2="148.5" y2="824.2" stroke="#000" stroke-width="2.8"/>
<line x1="141.7" y1="787.8" x2="148.5" y2="787.8" stroke="#000" stroke-width="2.8"/>
<line x1="141.7" y1="751.4" x2="148.5" y2="751.4" stroke="#000" stroke-width="2.8"/>
<line x1="141.7" y1="715" x2="148.5" y2="715" stroke="#000" stroke-width="2.8"/>
<line x1="136.5" y1="988" x2="585.4" y2="988" stroke="#000" stroke-width="2.8"/>
<line x1="215.3" y1="988" x2="215.3" y2="1000" stroke="#000" stroke-width="2.8"/>
<line x1="316.4" y1="988" x2="316.4" y2="1000" stroke="#000" stroke-width="2.8"/>
<line x1="416.9" y1="988" x2="416.9" y2="1000" stroke="#000" stroke-width="2.8"/>
<line x1="518" y1="988" x2="518" y2="1000" stroke="#000" stroke-width="2.8"/>
<text transform="translate(81 843.4) rotate(-90)" font-size="23.7" text-anchor="middle" stroke="#000" stroke-width="0.3">Normalized counts</text>
<text transform="translate(367 569.7)" font-size="23.6" text-anchor="middle" font-style="italic" stroke="#000" stroke-width="0.3">chk-1</text>
<line x1="216.5" y1="625" x2="517" y2="625" stroke="#000" stroke-width="3" stroke-linecap="round"/>
<text transform="translate(366.7 610)" font-size="23.6" text-anchor="middle" stroke="#000" stroke-width="0.3">p = 0.0019</text>
<line x1="216.5" y1="689" x2="416.2" y2="689" stroke="#000" stroke-width="3" stroke-linecap="round"/>
<text transform="translate(316.5 673.5)" font-size="23.6" text-anchor="middle" stroke="#000" stroke-width="0.3">p = 0.0025</text>
<line x1="215.4" y1="915.5" x2="215.4" y2="939.5" stroke="#22272b" stroke-width="1.5"/>
<line x1="198.3" y1="915.5" x2="232.5" y2="915.5" stroke="#22272b" stroke-width="1.5" stroke-linecap="round"/>
<line x1="198.3" y1="939.5" x2="232.5" y2="939.5" stroke="#22272b" stroke-width="1.5" stroke-linecap="round"/>
<circle cx="215.4" cy="904.5" r="5.5" fill="#22272b"/>
<circle cx="215.4" cy="932.9" r="5.5" fill="#22272b"/>
<circle cx="215.4" cy="945.2" r="5.5" fill="#22272b"/>
<line x1="182.1" y1="927.6" x2="248.7" y2="927.6" stroke="#0d1215" stroke-width="2.8"/>
<line x1="316.2" y1="816.7" x2="316.2" y2="858.8" stroke="#8fbb96" stroke-width="1.5"/>
<line x1="299.1" y1="816.7" x2="333.3" y2="816.7" stroke="#8fbb96" stroke-width="1.5" stroke-linecap="round"/>
<line x1="299.1" y1="858.8" x2="333.3" y2="858.8" stroke="#8fbb96" stroke-width="1.5" stroke-linecap="round"/>
<circle cx="316.2" cy="804.3" r="5.5" fill="#8fbb96"/>
<circle cx="316.2" cy="832.6" r="5.5" fill="#8fbb96"/>
<circle cx="316.2" cy="877" r="5.5" fill="#8fbb96"/>
<line x1="282.9" y1="837.8" x2="349.5" y2="837.8" stroke="#8fbb96" stroke-width="2.8"/>
<line x1="417.2" y1="736.8" x2="417.2" y2="763.4" stroke="#cb9250" stroke-width="1.5"/>
<line x1="400.1" y1="736.8" x2="434.3" y2="736.8" stroke="#cb9250" stroke-width="1.5" stroke-linecap="round"/>
<line x1="400.1" y1="763.4" x2="434.3" y2="763.4" stroke="#cb9250" stroke-width="1.5" stroke-linecap="round"/>
<circle cx="405" cy="733.6" r="5.5" fill="#cb9250"/>
<circle cx="428.4" cy="742.3" r="5.5" fill="#cb9250"/>
<circle cx="417.2" cy="776.5" r="5.5" fill="#cb9250"/>
<line x1="383.9" y1="750.2" x2="450.5" y2="750.2" stroke="#cb9250" stroke-width="2.8"/>
<line x1="517.8" y1="734.8" x2="517.8" y2="758.4" stroke="#c0392b" stroke-width="1.5"/>
<line x1="500.7" y1="734.8" x2="534.9" y2="734.8" stroke="#c0392b" stroke-width="1.5" stroke-linecap="round"/>
<line x1="500.7" y1="758.4" x2="534.9" y2="758.4" stroke="#c0392b" stroke-width="1.5" stroke-linecap="round"/>
<circle cx="517.8" cy="723.2" r="5.5" fill="#c0392b"/>
<circle cx="506.1" cy="760.9" r="5.5" fill="#c0392b"/>
<circle cx="529.7" cy="755.4" r="5.5" fill="#c0392b"/>
<line x1="484.5" y1="746.5" x2="551.1" y2="746.5" stroke="#c0392b" stroke-width="2.8"/>
<text transform="translate(220.19 1018.89) rotate(-45)" font-size="22.5" text-anchor="end" stroke="#000" stroke-width="0.3">Wild-type</text>
<text transform="translate(321.29 1018.89) rotate(-45)" font-size="22.5" text-anchor="end" stroke="#000" stroke-width="0.3">W1044X</text>
<text transform="translate(421.79 1018.89) rotate(-45)" font-size="22.5" text-anchor="end" stroke="#000" stroke-width="0.3">S1444R</text>
<text transform="translate(522.89 1018.89) rotate(-45)" font-size="22.5" text-anchor="end" stroke="#000" stroke-width="0.3"><tspan font-style="italic">&#916;agl-1</tspan></text>
<text transform="translate(767 589)" font-size="31" stroke="#000" stroke-width="0.3">D</text>
<line x1="860.5" y1="695.2" x2="860.5" y2="989.4" stroke="#000" stroke-width="2.8"/>
<line x1="848.5" y1="988" x2="860.5" y2="988" stroke="#000" stroke-width="2.8"/>
<text transform="translate(844 995.88)" font-size="22.5" text-anchor="end" stroke="#000" stroke-width="0.3">3200</text>
<line x1="848.5" y1="951.58" x2="860.5" y2="951.58" stroke="#000" stroke-width="2.8"/>
<text transform="translate(844 959.45)" font-size="22.5" text-anchor="end" stroke="#000" stroke-width="0.3">3300</text>
<line x1="848.5" y1="915.15" x2="860.5" y2="915.15" stroke="#000" stroke-width="2.8"/>
<text transform="translate(844 923.02)" font-size="22.5" text-anchor="end" stroke="#000" stroke-width="0.3">3400</text>
<line x1="848.5" y1="878.73" x2="860.5" y2="878.73" stroke="#000" stroke-width="2.8"/>
<text transform="translate(844 886.6)" font-size="22.5" text-anchor="end" stroke="#000" stroke-width="0.3">3500</text>
<line x1="848.5" y1="842.3" x2="860.5" y2="842.3" stroke="#000" stroke-width="2.8"/>
<text transform="translate(844 850.17)" font-size="22.5" text-anchor="end" stroke="#000" stroke-width="0.3">3600</text>
<line x1="848.5" y1="805.88" x2="860.5" y2="805.88" stroke="#000" stroke-width="2.8"/>
<text transform="translate(844 813.75)" font-size="22.5" text-anchor="end" stroke="#000" stroke-width="0.3">3700</text>
<line x1="848.5" y1="769.45" x2="860.5" y2="769.45" stroke="#000" stroke-width="2.8"/>
<text transform="translate(844 777.33)" font-size="22.5" text-anchor="end" stroke="#000" stroke-width="0.3">3800</text>
<line x1="848.5" y1="733.03" x2="860.5" y2="733.03" stroke="#000" stroke-width="2.8"/>
<text transform="translate(844 740.9)" font-size="22.5" text-anchor="end" stroke="#000" stroke-width="0.3">3900</text>
<line x1="848.5" y1="696.6" x2="860.5" y2="696.6" stroke="#000" stroke-width="2.8"/>
<text transform="translate(844 704.48)" font-size="22.5" text-anchor="end" stroke="#000" stroke-width="0.3">4000</text>
<line x1="853.7" y1="969.79" x2="860.5" y2="969.79" stroke="#000" stroke-width="2.8"/>
<line x1="853.7" y1="933.36" x2="860.5" y2="933.36" stroke="#000" stroke-width="2.8"/>
<line x1="853.7" y1="896.94" x2="860.5" y2="896.94" stroke="#000" stroke-width="2.8"/>
<line x1="853.7" y1="860.51" x2="860.5" y2="860.51" stroke="#000" stroke-width="2.8"/>
<line x1="853.7" y1="824.09" x2="860.5" y2="824.09" stroke="#000" stroke-width="2.8"/>
<line x1="853.7" y1="787.66" x2="860.5" y2="787.66" stroke="#000" stroke-width="2.8"/>
<line x1="853.7" y1="751.24" x2="860.5" y2="751.24" stroke="#000" stroke-width="2.8"/>
<line x1="853.7" y1="714.81" x2="860.5" y2="714.81" stroke="#000" stroke-width="2.8"/>
<line x1="848.8" y1="988" x2="1297" y2="988" stroke="#000" stroke-width="2.8"/>
<line x1="927.4" y1="988" x2="927.4" y2="1000" stroke="#000" stroke-width="2.8"/>
<line x1="1027.5" y1="988" x2="1027.5" y2="1000" stroke="#000" stroke-width="2.8"/>
<line x1="1128.2" y1="988" x2="1128.2" y2="1000" stroke="#000" stroke-width="2.8"/>
<line x1="1229" y1="988" x2="1229" y2="1000" stroke="#000" stroke-width="2.8"/>
<text transform="translate(780 843.3) rotate(-90)" font-size="23.6" text-anchor="middle" stroke="#000" stroke-width="0.3">Normalized counts</text>
<text transform="translate(1078.5 571)" font-size="23.6" text-anchor="middle" font-style="italic" stroke="#000" stroke-width="0.3">pkc-1</text>
<line x1="928.3" y1="693.9" x2="1128" y2="693.9" stroke="#000" stroke-width="3" stroke-linecap="round"/>
<text transform="translate(1027.5 678.7)" font-size="23.6" text-anchor="middle" stroke="#000" stroke-width="0.3">p = 0.2751</text>
<line x1="927.4" y1="766.7" x2="927.4" y2="854" stroke="#22272b" stroke-width="1.5"/>
<line x1="910.3" y1="766.7" x2="944.5" y2="766.7" stroke="#22272b" stroke-width="1.5" stroke-linecap="round"/>
<line x1="910.3" y1="854" x2="944.5" y2="854" stroke="#22272b" stroke-width="1.5" stroke-linecap="round"/>
<circle cx="927.4" cy="728.8" r="5.5" fill="#22272b"/>
<circle cx="927.4" cy="825" r="5.5" fill="#22272b"/>
<circle cx="927.4" cy="877.4" r="5.5" fill="#22272b"/>
<line x1="894.1" y1="809.8" x2="960.7" y2="809.8" stroke="#0d1215" stroke-width="2.8"/>
<line x1="1027.8" y1="788.8" x2="1027.8" y2="826.5" stroke="#8fbb96" stroke-width="1.5"/>
<line x1="1010.7" y1="788.8" x2="1044.9" y2="788.8" stroke="#8fbb96" stroke-width="1.5" stroke-linecap="round"/>
<line x1="1010.7" y1="826.5" x2="1044.9" y2="826.5" stroke="#8fbb96" stroke-width="1.5" stroke-linecap="round"/>
<circle cx="1027.8" cy="780.3" r="5.5" fill="#8fbb96"/>
<circle cx="1027.8" cy="798.5" r="5.5" fill="#8fbb96"/>
<circle cx="1027.8" cy="844" r="5.5" fill="#8fbb96"/>
<line x1="994.5" y1="807.6" x2="1061.1" y2="807.6" stroke="#8fbb96" stroke-width="2.8"/>
<line x1="1128.6" y1="932.4" x2="1128.6" y2="959" stroke="#cb9250" stroke-width="1.5"/>
<line x1="1111.5" y1="932.4" x2="1145.7" y2="932.4" stroke="#cb9250" stroke-width="1.5" stroke-linecap="round"/>
<line x1="1111.5" y1="959" x2="1145.7" y2="959" stroke="#cb9250" stroke-width="1.5" stroke-linecap="round"/>
<circle cx="1128.6" cy="924.5" r="5.5" fill="#cb9250"/>
<circle cx="1128.6" cy="942" r="5.5" fill="#cb9250"/>
<circle cx="1128.6" cy="970" r="5.5" fill="#cb9250"/>
<line x1="1095.3" y1="945.7" x2="1161.9" y2="945.7" stroke="#cb9250" stroke-width="2.8"/>
<line x1="1229" y1="818.6" x2="1229" y2="865.3" stroke="#c0392b" stroke-width="1.5"/>
<line x1="1211.9" y1="818.6" x2="1246.1" y2="818.6" stroke="#c0392b" stroke-width="1.5" stroke-linecap="round"/>
<line x1="1211.9" y1="865.3" x2="1246.1" y2="865.3" stroke="#c0392b" stroke-width="1.5" stroke-linecap="round"/>
<circle cx="1229" cy="810.7" r="5.5" fill="#c0392b"/>
<circle cx="1229" cy="828" r="5.5" fill="#c0392b"/>
<circle cx="1229" cy="887.5" r="5.5" fill="#c0392b"/>
<line x1="1195.7" y1="842" x2="1262.3" y2="842" stroke="#c0392b" stroke-width="2.8"/>
<text transform="translate(932.29 1018.89) rotate(-45)" font-size="22.5" text-anchor="end" stroke="#000" stroke-width="0.3">Wild-type</text>
<text transform="translate(1032.39 1018.89) rotate(-45)" font-size="22.5" text-anchor="end" stroke="#000" stroke-width="0.3">W1044X</text>
<text transform="translate(1133.09 1018.89) rotate(-45)" font-size="22.5" text-anchor="end" stroke="#000" stroke-width="0.3">S1444R</text>
<text transform="translate(1233.89 1018.89) rotate(-45)" font-size="22.5" text-anchor="end" stroke="#000" stroke-width="0.3"><tspan font-style="italic">&#916;agl-1</tspan></text>
<text transform="translate(4.5 1098)" font-size="31" stroke="#000" stroke-width="0.3">E</text>
<line x1="149" y1="1164.6" x2="149" y2="1458.4" stroke="#000" stroke-width="2.8"/>
<line x1="137" y1="1457" x2="149" y2="1457" stroke="#000" stroke-width="2.8"/>
<text transform="translate(131.4 1465.07) scale(1 1.06)" font-size="21.7" text-anchor="end" stroke="#000" stroke-width="0.3">0</text>
<line x1="137" y1="1420.62" x2="149" y2="1420.62" stroke="#000" stroke-width="2.8"/>
<text transform="translate(131.4 1428.7) scale(1 1.06)" font-size="21.7" text-anchor="end" stroke="#000" stroke-width="0.3">10</text>
<line x1="137" y1="1384.25" x2="149" y2="1384.25" stroke="#000" stroke-width="2.8"/>
<text transform="translate(131.4 1392.32) scale(1 1.06)" font-size="21.7" text-anchor="end" stroke="#000" stroke-width="0.3">20</text>
<line x1="137" y1="1347.88" x2="149" y2="1347.88" stroke="#000" stroke-width="2.8"/>
<text transform="translate(131.4 1355.95) scale(1 1.06)" font-size="21.7" text-anchor="end" stroke="#000" stroke-width="0.3">30</text>
<line x1="137" y1="1311.5" x2="149" y2="1311.5" stroke="#000" stroke-width="2.8"/>
<text transform="translate(131.4 1319.57) scale(1 1.06)" font-size="21.7" text-anchor="end" stroke="#000" stroke-width="0.3">40</text>
<line x1="137" y1="1275.12" x2="149" y2="1275.12" stroke="#000" stroke-width="2.8"/>
<text transform="translate(131.4 1283.2) scale(1 1.06)" font-size="21.7" text-anchor="end" stroke="#000" stroke-width="0.3">50</text>
<line x1="137" y1="1238.75" x2="149" y2="1238.75" stroke="#000" stroke-width="2.8"/>
<text transform="translate(131.4 1246.82) scale(1 1.06)" font-size="21.7" text-anchor="end" stroke="#000" stroke-width="0.3">60</text>
<line x1="137" y1="1202.38" x2="149" y2="1202.38" stroke="#000" stroke-width="2.8"/>
<text transform="translate(131.4 1210.45) scale(1 1.06)" font-size="21.7" text-anchor="end" stroke="#000" stroke-width="0.3">70</text>
<line x1="137" y1="1166" x2="149" y2="1166" stroke="#000" stroke-width="2.8"/>
<text transform="translate(131.4 1174.07) scale(1 1.06)" font-size="21.7" text-anchor="end" stroke="#000" stroke-width="0.3">80</text>
<line x1="142.2" y1="1438.81" x2="149" y2="1438.81" stroke="#000" stroke-width="2.8"/>
<line x1="142.2" y1="1402.44" x2="149" y2="1402.44" stroke="#000" stroke-width="2.8"/>
<line x1="142.2" y1="1366.06" x2="149" y2="1366.06" stroke="#000" stroke-width="2.8"/>
<line x1="142.2" y1="1329.69" x2="149" y2="1329.69" stroke="#000" stroke-width="2.8"/>
<line x1="142.2" y1="1293.31" x2="149" y2="1293.31" stroke="#000" stroke-width="2.8"/>
<line x1="142.2" y1="1256.94" x2="149" y2="1256.94" stroke="#000" stroke-width="2.8"/>
<line x1="142.2" y1="1220.56" x2="149" y2="1220.56" stroke="#000" stroke-width="2.8"/>
<line x1="142.2" y1="1184.19" x2="149" y2="1184.19" stroke="#000" stroke-width="2.8"/>
<line x1="137" y1="1457" x2="585.8" y2="1457" stroke="#000" stroke-width="2.8"/>
<line x1="149" y1="1457" x2="149" y2="1469" stroke="#000" stroke-width="2.8"/>
<line x1="185.4" y1="1457" x2="185.4" y2="1469" stroke="#000" stroke-width="2.8"/>
<line x1="221.8" y1="1457" x2="221.8" y2="1469" stroke="#000" stroke-width="2.8"/>
<line x1="258.2" y1="1457" x2="258.2" y2="1469" stroke="#000" stroke-width="2.8"/>
<line x1="294.6" y1="1457" x2="294.6" y2="1469" stroke="#000" stroke-width="2.8"/>
<line x1="331" y1="1457" x2="331" y2="1469" stroke="#000" stroke-width="2.8"/>
<line x1="367.4" y1="1457" x2="367.4" y2="1469" stroke="#000" stroke-width="2.8"/>
<line x1="403.8" y1="1457" x2="403.8" y2="1469" stroke="#000" stroke-width="2.8"/>
<line x1="440.2" y1="1457" x2="440.2" y2="1469" stroke="#000" stroke-width="2.8"/>
<line x1="476.6" y1="1457" x2="476.6" y2="1469" stroke="#000" stroke-width="2.8"/>
<line x1="513" y1="1457" x2="513" y2="1469" stroke="#000" stroke-width="2.8"/>
<line x1="549.4" y1="1457" x2="549.4" y2="1469" stroke="#000" stroke-width="2.8"/>
<line x1="585.8" y1="1457" x2="585.8" y2="1469" stroke="#000" stroke-width="2.8"/>
<text transform="translate(149 1494.5) scale(1 1.06)" font-size="21.7" text-anchor="middle" stroke="#000" stroke-width="0.3">0</text>
<text transform="translate(185.4 1494.5) scale(1 1.06)" font-size="21.7" text-anchor="middle" stroke="#000" stroke-width="0.3">1</text>
<text transform="translate(221.8 1494.5) scale(1 1.06)" font-size="21.7" text-anchor="middle" stroke="#000" stroke-width="0.3">2</text>
<text transform="translate(258.2 1494.5) scale(1 1.06)" font-size="21.7" text-anchor="middle" stroke="#000" stroke-width="0.3">3</text>
<text transform="translate(294.6 1494.5) scale(1 1.06)" font-size="21.7" text-anchor="middle" stroke="#000" stroke-width="0.3">4</text>
<text transform="translate(331 1494.5) scale(1 1.06)" font-size="21.7" text-anchor="middle" stroke="#000" stroke-width="0.3">5</text>
<text transform="translate(367.4 1494.5) scale(1 1.06)" font-size="21.7" text-anchor="middle" stroke="#000" stroke-width="0.3">6</text>
<text transform="translate(403.8 1494.5) scale(1 1.06)" font-size="21.7" text-anchor="middle" stroke="#000" stroke-width="0.3">7</text>
<text transform="translate(440.2 1494.5) scale(1 1.06)" font-size="21.7" text-anchor="middle" stroke="#000" stroke-width="0.3">8</text>
<text transform="translate(476.6 1494.5) scale(1 1.06)" font-size="21.7" text-anchor="middle" stroke="#000" stroke-width="0.3">9</text>
<text transform="translate(513 1494.5) scale(1 1.06)" font-size="21.7" text-anchor="middle" stroke="#000" stroke-width="0.3">10</text>
<text transform="translate(549.4 1494.5) scale(1 1.06)" font-size="21.7" text-anchor="middle" stroke="#000" stroke-width="0.3">11</text>
<text transform="translate(585.8 1494.5) scale(1 1.06)" font-size="21.7" text-anchor="middle" stroke="#000" stroke-width="0.3">12</text>
<text transform="translate(367.2 1528.7)" font-size="23.6" text-anchor="middle" stroke="#000" stroke-width="0.3">Days of adulthood</text>
<text transform="translate(93.5 1310.3) rotate(-90)" font-size="23.5" text-anchor="middle" stroke="#000" stroke-width="0.3">% Paralyzed</text>
<polyline points="149,1457 185.4,1457 221.8,1457 258.2,1457 294.6,1457 331,1457 367.4,1455 403.8,1443 440.2,1425.6 476.6,1415 513,1398.8 549.4,1379.8 585.8,1359.8" fill="none" stroke="#3a7f86" stroke-width="1.6" stroke-linejoin="round"/>
<line x1="440.2" y1="1419.6" x2="440.2" y2="1431.4" stroke="#3a7f86" stroke-width="1.7"/>
<line x1="433.8" y1="1419.6" x2="446.6" y2="1419.6" stroke="#3a7f86" stroke-width="1.7"/>
<line x1="433.8" y1="1431.4" x2="446.6" y2="1431.4" stroke="#3a7f86" stroke-width="1.7"/>
<line x1="476.6" y1="1408.6" x2="476.6" y2="1422" stroke="#3a7f86" stroke-width="1.7"/>
<line x1="470.2" y1="1408.6" x2="483" y2="1408.6" stroke="#3a7f86" stroke-width="1.7"/>
<line x1="470.2" y1="1422" x2="483" y2="1422" stroke="#3a7f86" stroke-width="1.7"/>
<line x1="513" y1="1391" x2="513" y2="1406.6" stroke="#3a7f86" stroke-width="1.7"/>
<line x1="506.6" y1="1391" x2="519.4" y2="1391" stroke="#3a7f86" stroke-width="1.7"/>
<line x1="506.6" y1="1406.6" x2="519.4" y2="1406.6" stroke="#3a7f86" stroke-width="1.7"/>
<line x1="549.4" y1="1371" x2="549.4" y2="1388.8" stroke="#3a7f86" stroke-width="1.7"/>
<line x1="543" y1="1371" x2="555.8" y2="1371" stroke="#3a7f86" stroke-width="1.7"/>
<line x1="543" y1="1388.8" x2="555.8" y2="1388.8" stroke="#3a7f86" stroke-width="1.7"/>
<line x1="585.8" y1="1349.8" x2="585.8" y2="1369.3" stroke="#3a7f86" stroke-width="1.7"/>
<line x1="579.4" y1="1349.8" x2="592.2" y2="1349.8" stroke="#3a7f86" stroke-width="1.7"/>
<line x1="579.4" y1="1369.3" x2="592.2" y2="1369.3" stroke="#3a7f86" stroke-width="1.7"/>
<circle cx="367.4" cy="1455" r="5.6" fill="#3a7f86"/>
<circle cx="403.8" cy="1443" r="5.6" fill="#3a7f86"/>
<circle cx="440.2" cy="1425.6" r="5.6" fill="#3a7f86"/>
<circle cx="476.6" cy="1415" r="5.6" fill="#3a7f86"/>
<circle cx="513" cy="1398.8" r="5.6" fill="#3a7f86"/>
<circle cx="549.4" cy="1379.8" r="5.6" fill="#3a7f86"/>
<circle cx="585.8" cy="1359.8" r="5.6" fill="#3a7f86"/>
<polyline points="149,1457 185.4,1457 221.8,1457 258.2,1457 294.6,1457 331,1457 367.4,1452 403.8,1429 440.2,1380.4 476.6,1359 513,1334.4 549.4,1300.4 585.8,1270.4" fill="none" stroke="#939079" stroke-width="1.6" stroke-linejoin="round"/>
<line x1="403.8" y1="1423.6" x2="403.8" y2="1434.6" stroke="#939079" stroke-width="1.7"/>
<line x1="397.4" y1="1423.6" x2="410.2" y2="1423.6" stroke="#939079" stroke-width="1.7"/>
<line x1="397.4" y1="1434.6" x2="410.2" y2="1434.6" stroke="#939079" stroke-width="1.7"/>
<line x1="440.2" y1="1372" x2="440.2" y2="1389.6" stroke="#939079" stroke-width="1.7"/>
<line x1="433.8" y1="1372" x2="446.6" y2="1372" stroke="#939079" stroke-width="1.7"/>
<line x1="433.8" y1="1389.6" x2="446.6" y2="1389.6" stroke="#939079" stroke-width="1.7"/>
<line x1="476.6" y1="1349.4" x2="476.6" y2="1368.4" stroke="#939079" stroke-width="1.7"/>
<line x1="470.2" y1="1349.4" x2="483" y2="1349.4" stroke="#939079" stroke-width="1.7"/>
<line x1="470.2" y1="1368.4" x2="483" y2="1368.4" stroke="#939079" stroke-width="1.7"/>
<line x1="513" y1="1323.5" x2="513" y2="1345" stroke="#939079" stroke-width="1.7"/>
<line x1="506.6" y1="1323.5" x2="519.4" y2="1323.5" stroke="#939079" stroke-width="1.7"/>
<line x1="506.6" y1="1345" x2="519.4" y2="1345" stroke="#939079" stroke-width="1.7"/>
<line x1="549.4" y1="1289" x2="549.4" y2="1311.6" stroke="#939079" stroke-width="1.7"/>
<line x1="543" y1="1289" x2="555.8" y2="1289" stroke="#939079" stroke-width="1.7"/>
<line x1="543" y1="1311.6" x2="555.8" y2="1311.6" stroke="#939079" stroke-width="1.7"/>
<line x1="585.8" y1="1258.9" x2="585.8" y2="1282" stroke="#939079" stroke-width="1.7"/>
<line x1="579.4" y1="1258.9" x2="592.2" y2="1258.9" stroke="#939079" stroke-width="1.7"/>
<line x1="579.4" y1="1282" x2="592.2" y2="1282" stroke="#939079" stroke-width="1.7"/>
<circle cx="221.8" cy="1457" r="5.6" fill="#939079"/>
<circle cx="258.2" cy="1457" r="5.6" fill="#939079"/>
<circle cx="294.6" cy="1457" r="5.6" fill="#939079"/>
<circle cx="331" cy="1457" r="5.6" fill="#939079"/>
<circle cx="367.4" cy="1452" r="5.6" fill="#939079"/>
<circle cx="403.8" cy="1429" r="5.6" fill="#939079"/>
<circle cx="440.2" cy="1380.4" r="5.6" fill="#939079"/>
<circle cx="476.6" cy="1359" r="5.6" fill="#939079"/>
<circle cx="513" cy="1334.4" r="5.6" fill="#939079"/>
<circle cx="549.4" cy="1300.4" r="5.6" fill="#939079"/>
<circle cx="585.8" cy="1270.4" r="5.6" fill="#939079"/>
<polyline points="603.4,1269.7 637.6,1269.7 637.6,1357.1 603.4,1357.1" fill="none" stroke="#000" stroke-width="3"/>
<text transform="translate(642.9 1321.6)" font-size="23.6" stroke="#000" stroke-width="0.3">p &lt; 0.0001</text>
<line x1="169" y1="1400" x2="200.6" y2="1400" stroke="#939079" stroke-width="1.8"/>
<circle cx="184.5" cy="1400" r="5.6" fill="#939079"/>
<text transform="translate(216.3 1408.6)" font-size="23.5" stroke="#000" stroke-width="0.3">EV</text>
<line x1="166.6" y1="1431.4" x2="198.6" y2="1431.4" stroke="#3a7f86" stroke-width="1.8"/>
<circle cx="182.5" cy="1431.4" r="5.6" fill="#3a7f86"/>
<text transform="translate(217 1439)" font-size="23.5" font-style="italic" stroke="#000" stroke-width="0.3">chk-1</text>
<text transform="translate(753.5 1098)" font-size="31" stroke="#000" stroke-width="0.3">F</text>
<line x1="860.5" y1="1164.2" x2="860.5" y2="1458.4" stroke="#000" stroke-width="2.8"/>
<line x1="848.5" y1="1457" x2="860.5" y2="1457" stroke="#000" stroke-width="2.8"/>
<text transform="translate(842.9 1465.07) scale(1 1.06)" font-size="21.7" text-anchor="end" stroke="#000" stroke-width="0.3">0</text>
<line x1="848.5" y1="1420.58" x2="860.5" y2="1420.58" stroke="#000" stroke-width="2.8"/>
<text transform="translate(842.9 1428.65) scale(1 1.06)" font-size="21.7" text-anchor="end" stroke="#000" stroke-width="0.3">10</text>
<line x1="848.5" y1="1384.15" x2="860.5" y2="1384.15" stroke="#000" stroke-width="2.8"/>
<text transform="translate(842.9 1392.22) scale(1 1.06)" font-size="21.7" text-anchor="end" stroke="#000" stroke-width="0.3">20</text>
<line x1="848.5" y1="1347.72" x2="860.5" y2="1347.72" stroke="#000" stroke-width="2.8"/>
<text transform="translate(842.9 1355.8) scale(1 1.06)" font-size="21.7" text-anchor="end" stroke="#000" stroke-width="0.3">30</text>
<line x1="848.5" y1="1311.3" x2="860.5" y2="1311.3" stroke="#000" stroke-width="2.8"/>
<text transform="translate(842.9 1319.37) scale(1 1.06)" font-size="21.7" text-anchor="end" stroke="#000" stroke-width="0.3">40</text>
<line x1="848.5" y1="1274.88" x2="860.5" y2="1274.88" stroke="#000" stroke-width="2.8"/>
<text transform="translate(842.9 1282.95) scale(1 1.06)" font-size="21.7" text-anchor="end" stroke="#000" stroke-width="0.3">50</text>
<line x1="848.5" y1="1238.45" x2="860.5" y2="1238.45" stroke="#000" stroke-width="2.8"/>
<text transform="translate(842.9 1246.52) scale(1 1.06)" font-size="21.7" text-anchor="end" stroke="#000" stroke-width="0.3">60</text>
<line x1="848.5" y1="1202.02" x2="860.5" y2="1202.02" stroke="#000" stroke-width="2.8"/>
<text transform="translate(842.9 1210.1) scale(1 1.06)" font-size="21.7" text-anchor="end" stroke="#000" stroke-width="0.3">70</text>
<line x1="848.5" y1="1165.6" x2="860.5" y2="1165.6" stroke="#000" stroke-width="2.8"/>
<text transform="translate(842.9 1173.67) scale(1 1.06)" font-size="21.7" text-anchor="end" stroke="#000" stroke-width="0.3">80</text>
<line x1="853.7" y1="1438.79" x2="860.5" y2="1438.79" stroke="#000" stroke-width="2.8"/>
<line x1="853.7" y1="1402.36" x2="860.5" y2="1402.36" stroke="#000" stroke-width="2.8"/>
<line x1="853.7" y1="1365.94" x2="860.5" y2="1365.94" stroke="#000" stroke-width="2.8"/>
<line x1="853.7" y1="1329.51" x2="860.5" y2="1329.51" stroke="#000" stroke-width="2.8"/>
<line x1="853.7" y1="1293.09" x2="860.5" y2="1293.09" stroke="#000" stroke-width="2.8"/>
<line x1="853.7" y1="1256.66" x2="860.5" y2="1256.66" stroke="#000" stroke-width="2.8"/>
<line x1="853.7" y1="1220.24" x2="860.5" y2="1220.24" stroke="#000" stroke-width="2.8"/>
<line x1="853.7" y1="1183.81" x2="860.5" y2="1183.81" stroke="#000" stroke-width="2.8"/>
<line x1="848.6" y1="1457" x2="1297.4" y2="1457" stroke="#000" stroke-width="2.8"/>
<line x1="860.6" y1="1457" x2="860.6" y2="1469" stroke="#000" stroke-width="2.8"/>
<line x1="897" y1="1457" x2="897" y2="1469" stroke="#000" stroke-width="2.8"/>
<line x1="933.4" y1="1457" x2="933.4" y2="1469" stroke="#000" stroke-width="2.8"/>
<line x1="969.8" y1="1457" x2="969.8" y2="1469" stroke="#000" stroke-width="2.8"/>
<line x1="1006.2" y1="1457" x2="1006.2" y2="1469" stroke="#000" stroke-width="2.8"/>
<line x1="1042.6" y1="1457" x2="1042.6" y2="1469" stroke="#000" stroke-width="2.8"/>
<line x1="1079" y1="1457" x2="1079" y2="1469" stroke="#000" stroke-width="2.8"/>
<line x1="1115.4" y1="1457" x2="1115.4" y2="1469" stroke="#000" stroke-width="2.8"/>
<line x1="1151.8" y1="1457" x2="1151.8" y2="1469" stroke="#000" stroke-width="2.8"/>
<line x1="1188.2" y1="1457" x2="1188.2" y2="1469" stroke="#000" stroke-width="2.8"/>
<line x1="1224.6" y1="1457" x2="1224.6" y2="1469" stroke="#000" stroke-width="2.8"/>
<line x1="1261" y1="1457" x2="1261" y2="1469" stroke="#000" stroke-width="2.8"/>
<line x1="1297.4" y1="1457" x2="1297.4" y2="1469" stroke="#000" stroke-width="2.8"/>
<text transform="translate(860.6 1494.5) scale(1 1.06)" font-size="21.7" text-anchor="middle" stroke="#000" stroke-width="0.3">0</text>
<text transform="translate(897 1494.5) scale(1 1.06)" font-size="21.7" text-anchor="middle" stroke="#000" stroke-width="0.3">1</text>
<text transform="translate(933.4 1494.5) scale(1 1.06)" font-size="21.7" text-anchor="middle" stroke="#000" stroke-width="0.3">2</text>
<text transform="translate(969.8 1494.5) scale(1 1.06)" font-size="21.7" text-anchor="middle" stroke="#000" stroke-width="0.3">3</text>
<text transform="translate(1006.2 1494.5) scale(1 1.06)" font-size="21.7" text-anchor="middle" stroke="#000" stroke-width="0.3">4</text>
<text transform="translate(1042.6 1494.5) scale(1 1.06)" font-size="21.7" text-anchor="middle" stroke="#000" stroke-width="0.3">5</text>
<text transform="translate(1079 1494.5) scale(1 1.06)" font-size="21.7" text-anchor="middle" stroke="#000" stroke-width="0.3">6</text>
<text transform="translate(1115.4 1494.5) scale(1 1.06)" font-size="21.7" text-anchor="middle" stroke="#000" stroke-width="0.3">7</text>
<text transform="translate(1151.8 1494.5) scale(1 1.06)" font-size="21.7" text-anchor="middle" stroke="#000" stroke-width="0.3">8</text>
<text transform="translate(1188.2 1494.5) scale(1 1.06)" font-size="21.7" text-anchor="middle" stroke="#000" stroke-width="0.3">9</text>
<text transform="translate(1224.6 1494.5) scale(1 1.06)" font-size="21.7" text-anchor="middle" stroke="#000" stroke-width="0.3">10</text>
<text transform="translate(1261 1494.5) scale(1 1.06)" font-size="21.7" text-anchor="middle" stroke="#000" stroke-width="0.3">11</text>
<text transform="translate(1297.4 1494.5) scale(1 1.06)" font-size="21.7" text-anchor="middle" stroke="#000" stroke-width="0.3">12</text>
<text transform="translate(1078.6 1528.7)" font-size="23.6" text-anchor="middle" stroke="#000" stroke-width="0.3">Days of adulthood</text>
<text transform="translate(804.4 1311) rotate(-90)" font-size="23.5" text-anchor="middle" stroke="#000" stroke-width="0.3">%Paralyzed</text>
<polyline points="860.6,1457 897,1457 933.4,1457 969.8,1457 1006.2,1455.6 1042.6,1440.4 1079,1425.5 1115.4,1415.6 1151.8,1398.5 1188.2,1366.6 1224.6,1336.1 1261,1315.3 1297.4,1279.7" fill="none" stroke="#ad5a4c" stroke-width="1.6" stroke-linejoin="round"/>
<line x1="1079" y1="1419.3" x2="1079" y2="1432.4" stroke="#ad5a4c" stroke-width="1.7"/>
<line x1="1072.6" y1="1419.3" x2="1085.4" y2="1419.3" stroke="#ad5a4c" stroke-width="1.7"/>
<line x1="1072.6" y1="1432.4" x2="1085.4" y2="1432.4" stroke="#ad5a4c" stroke-width="1.7"/>
<line x1="1115.4" y1="1407.8" x2="1115.4" y2="1423" stroke="#ad5a4c" stroke-width="1.7"/>
<line x1="1109" y1="1407.8" x2="1121.8" y2="1407.8" stroke="#ad5a4c" stroke-width="1.7"/>
<line x1="1109" y1="1423" x2="1121.8" y2="1423" stroke="#ad5a4c" stroke-width="1.7"/>
<line x1="1151.8" y1="1390.5" x2="1151.8" y2="1407.5" stroke="#ad5a4c" stroke-width="1.7"/>
<line x1="1145.4" y1="1390.5" x2="1158.2" y2="1390.5" stroke="#ad5a4c" stroke-width="1.7"/>
<line x1="1145.4" y1="1407.5" x2="1158.2" y2="1407.5" stroke="#ad5a4c" stroke-width="1.7"/>
<line x1="1188.2" y1="1355.7" x2="1188.2" y2="1378" stroke="#ad5a4c" stroke-width="1.7"/>
<line x1="1181.8" y1="1355.7" x2="1194.6" y2="1355.7" stroke="#ad5a4c" stroke-width="1.7"/>
<line x1="1181.8" y1="1378" x2="1194.6" y2="1378" stroke="#ad5a4c" stroke-width="1.7"/>
<line x1="1224.6" y1="1326.2" x2="1224.6" y2="1348.9" stroke="#ad5a4c" stroke-width="1.7"/>
<line x1="1218.2" y1="1326.2" x2="1231" y2="1326.2" stroke="#ad5a4c" stroke-width="1.7"/>
<line x1="1218.2" y1="1348.9" x2="1231" y2="1348.9" stroke="#ad5a4c" stroke-width="1.7"/>
<line x1="1261" y1="1303" x2="1261" y2="1328.7" stroke="#ad5a4c" stroke-width="1.7"/>
<line x1="1254.6" y1="1303" x2="1267.4" y2="1303" stroke="#ad5a4c" stroke-width="1.7"/>
<line x1="1254.6" y1="1328.7" x2="1267.4" y2="1328.7" stroke="#ad5a4c" stroke-width="1.7"/>
<line x1="1297.4" y1="1266.6" x2="1297.4" y2="1293.6" stroke="#ad5a4c" stroke-width="1.7"/>
<line x1="1291" y1="1266.6" x2="1303.8" y2="1266.6" stroke="#ad5a4c" stroke-width="1.7"/>
<line x1="1291" y1="1293.6" x2="1303.8" y2="1293.6" stroke="#ad5a4c" stroke-width="1.7"/>
<circle cx="1006.2" cy="1455.6" r="5.6" fill="#ad5a4c"/>
<circle cx="1042.6" cy="1440.4" r="5.6" fill="#ad5a4c"/>
<circle cx="1079" cy="1425.5" r="5.6" fill="#ad5a4c"/>
<circle cx="1115.4" cy="1415.6" r="5.6" fill="#ad5a4c"/>
<circle cx="1151.8" cy="1398.5" r="5.6" fill="#ad5a4c"/>
<circle cx="1188.2" cy="1366.6" r="5.6" fill="#ad5a4c"/>
<circle cx="1224.6" cy="1336.1" r="5.6" fill="#ad5a4c"/>
<circle cx="1261" cy="1315.3" r="5.6" fill="#ad5a4c"/>
<circle cx="1297.4" cy="1279.7" r="5.6" fill="#ad5a4c"/>
<polyline points="860.6,1457 897,1457 933.4,1457 969.8,1457 1006.2,1457 1042.6,1457 1079,1452 1115.4,1429 1151.8,1380.4 1188.2,1359 1224.6,1334.4 1261,1300.4 1297.4,1270.4" fill="none" stroke="#85836c" stroke-width="1.6" stroke-linejoin="round"/>
<line x1="1115.4" y1="1423.6" x2="1115.4" y2="1434.6" stroke="#85836c" stroke-width="1.7"/>
<line x1="1109" y1="1423.6" x2="1121.8" y2="1423.6" stroke="#85836c" stroke-width="1.7"/>
<line x1="1109" y1="1434.6" x2="1121.8" y2="1434.6" stroke="#85836c" stroke-width="1.7"/>
<line x1="1151.8" y1="1372" x2="1151.8" y2="1389.6" stroke="#85836c" stroke-width="1.7"/>
<line x1="1145.4" y1="1372" x2="1158.2" y2="1372" stroke="#85836c" stroke-width="1.7"/>
<line x1="1145.4" y1="1389.6" x2="1158.2" y2="1389.6" stroke="#85836c" stroke-width="1.7"/>
<line x1="1188.2" y1="1349.4" x2="1188.2" y2="1368.4" stroke="#85836c" stroke-width="1.7"/>
<line x1="1181.8" y1="1349.4" x2="1194.6" y2="1349.4" stroke="#85836c" stroke-width="1.7"/>
<line x1="1181.8" y1="1368.4" x2="1194.6" y2="1368.4" stroke="#85836c" stroke-width="1.7"/>
<line x1="1224.6" y1="1323.5" x2="1224.6" y2="1345" stroke="#85836c" stroke-width="1.7"/>
<line x1="1218.2" y1="1323.5" x2="1231" y2="1323.5" stroke="#85836c" stroke-width="1.7"/>
<line x1="1218.2" y1="1345" x2="1231" y2="1345" stroke="#85836c" stroke-width="1.7"/>
<line x1="1261" y1="1289" x2="1261" y2="1311.6" stroke="#85836c" stroke-width="1.7"/>
<line x1="1254.6" y1="1289" x2="1267.4" y2="1289" stroke="#85836c" stroke-width="1.7"/>
<line x1="1254.6" y1="1311.6" x2="1267.4" y2="1311.6" stroke="#85836c" stroke-width="1.7"/>
<line x1="1297.4" y1="1258.9" x2="1297.4" y2="1282" stroke="#85836c" stroke-width="1.7"/>
<line x1="1291" y1="1258.9" x2="1303.8" y2="1258.9" stroke="#85836c" stroke-width="1.7"/>
<line x1="1291" y1="1282" x2="1303.8" y2="1282" stroke="#85836c" stroke-width="1.7"/>
<circle cx="933.4" cy="1457" r="5.6" fill="#85836c"/>
<circle cx="969.8" cy="1457" r="5.6" fill="#85836c"/>
<circle cx="1006.2" cy="1457" r="5.6" fill="#85836c"/>
<circle cx="1042.6" cy="1457" r="5.6" fill="#85836c"/>
<circle cx="1079" cy="1452" r="5.6" fill="#85836c"/>
<circle cx="1115.4" cy="1429" r="5.6" fill="#85836c"/>
<circle cx="1151.8" cy="1380.4" r="5.6" fill="#85836c"/>
<circle cx="1188.2" cy="1359" r="5.6" fill="#85836c"/>
<circle cx="1224.6" cy="1334.4" r="5.6" fill="#85836c"/>
<circle cx="1261" cy="1300.4" r="5.6" fill="#85836c"/>
<circle cx="1297.4" cy="1270.4" r="5.6" fill="#85836c"/>
<polyline points="1312.5,1260.1 1328,1260.1 1328,1287.4 1312.5,1287.4" fill="none" stroke="#000" stroke-width="3"/>
<text transform="translate(1335.2 1279.7)" font-size="23.6" stroke="#000" stroke-width="0.3">p = 0.7487</text>
<line x1="882.4" y1="1397.6" x2="914" y2="1397.6" stroke="#85836c" stroke-width="1.6"/>
<circle cx="898" cy="1397.6" r="5.6" fill="#85836c"/>
<text transform="translate(930.3 1405.6)" font-size="23.5" stroke="#000" stroke-width="0.3">EV</text>
<line x1="882.4" y1="1428.4" x2="914" y2="1428.4" stroke="#ad5a4c" stroke-width="1.8"/>
<circle cx="898" cy="1428.4" r="5.6" fill="#ad5a4c"/>
<text transform="translate(932 1436.6)" font-size="23.5" font-style="italic" stroke="#000" stroke-width="0.3">pkc-1</text>
<text transform="translate(5.5 1556)" font-size="31" stroke="#000" stroke-width="0.3">G</text>
<line x1="148.6" y1="1618.6" x2="148.6" y2="1912.7" stroke="#000" stroke-width="2.8"/>
<line x1="140" y1="1911.3" x2="148.6" y2="1911.3" stroke="#000" stroke-width="2.8"/>
<text transform="translate(134.8 1919.33) scale(1 1.02)" font-size="22.5" text-anchor="end" stroke="#000" stroke-width="0.3">0</text>
<line x1="140" y1="1874.89" x2="148.6" y2="1874.89" stroke="#000" stroke-width="2.8"/>
<text transform="translate(134.8 1882.92) scale(1 1.02)" font-size="22.5" text-anchor="end" stroke="#000" stroke-width="0.3">25</text>
<line x1="140" y1="1838.47" x2="148.6" y2="1838.47" stroke="#000" stroke-width="2.8"/>
<text transform="translate(134.8 1846.51) scale(1 1.02)" font-size="22.5" text-anchor="end" stroke="#000" stroke-width="0.3">50</text>
<line x1="140" y1="1802.06" x2="148.6" y2="1802.06" stroke="#000" stroke-width="2.8"/>
<text transform="translate(134.8 1810.1) scale(1 1.02)" font-size="22.5" text-anchor="end" stroke="#000" stroke-width="0.3">75</text>
<line x1="140" y1="1765.65" x2="148.6" y2="1765.65" stroke="#000" stroke-width="2.8"/>
<text transform="translate(134.8 1773.68) scale(1 1.02)" font-size="22.5" text-anchor="end" stroke="#000" stroke-width="0.3">100</text>
<line x1="140" y1="1729.24" x2="148.6" y2="1729.24" stroke="#000" stroke-width="2.8"/>
<text transform="translate(134.8 1737.27) scale(1 1.02)" font-size="22.5" text-anchor="end" stroke="#000" stroke-width="0.3">125</text>
<line x1="140" y1="1692.83" x2="148.6" y2="1692.83" stroke="#000" stroke-width="2.8"/>
<text transform="translate(134.8 1700.86) scale(1 1.02)" font-size="22.5" text-anchor="end" stroke="#000" stroke-width="0.3">150</text>
<line x1="140" y1="1656.41" x2="148.6" y2="1656.41" stroke="#000" stroke-width="2.8"/>
<text transform="translate(134.8 1664.44) scale(1 1.02)" font-size="22.5" text-anchor="end" stroke="#000" stroke-width="0.3">175</text>
<line x1="140" y1="1620" x2="148.6" y2="1620" stroke="#000" stroke-width="2.8"/>
<text transform="translate(134.8 1628.03) scale(1 1.02)" font-size="22.5" text-anchor="end" stroke="#000" stroke-width="0.3">200</text>
<line x1="143.8" y1="1893.09" x2="148.6" y2="1893.09" stroke="#000" stroke-width="2.8"/>
<line x1="143.8" y1="1856.68" x2="148.6" y2="1856.68" stroke="#000" stroke-width="2.8"/>
<line x1="143.8" y1="1820.27" x2="148.6" y2="1820.27" stroke="#000" stroke-width="2.8"/>
<line x1="143.8" y1="1783.86" x2="148.6" y2="1783.86" stroke="#000" stroke-width="2.8"/>
<line x1="143.8" y1="1747.44" x2="148.6" y2="1747.44" stroke="#000" stroke-width="2.8"/>
<line x1="143.8" y1="1711.03" x2="148.6" y2="1711.03" stroke="#000" stroke-width="2.8"/>
<line x1="143.8" y1="1674.62" x2="148.6" y2="1674.62" stroke="#000" stroke-width="2.8"/>
<line x1="143.8" y1="1638.21" x2="148.6" y2="1638.21" stroke="#000" stroke-width="2.8"/>
<line x1="140" y1="1911.3" x2="584" y2="1911.3" stroke="#000" stroke-width="2.8"/>
<line x1="257.5" y1="1911.3" x2="257.5" y2="1919.9" stroke="#000" stroke-width="2.8"/>
<line x1="476" y1="1911.3" x2="476" y2="1919.9" stroke="#000" stroke-width="2.8"/>
<text transform="translate(78.4 1765.4) rotate(-90)" font-size="23.5" text-anchor="middle" stroke="#000" stroke-width="0.3">% Iodine staining</text>
<line x1="258.1" y1="1643.6" x2="475.9" y2="1643.6" stroke="#000" stroke-width="3" stroke-linecap="round"/>
<text transform="translate(367 1628.2)" font-size="23.6" text-anchor="middle" stroke="#000" stroke-width="0.3">p = 0.0220</text>
<line x1="221.05" y1="1678.3" x2="293.75" y2="1678.3" stroke="#2b0a1e" stroke-width="2.3" stroke-linecap="round"/>
<line x1="257.4" y1="1678.3" x2="257.4" y2="1740.7" stroke="#2b0a1e" stroke-width="2.3"/>
<line x1="257.4" y1="1789" x2="257.4" y2="1843.7" stroke="#2b0a1e" stroke-width="2.3"/>
<line x1="221.05" y1="1843.7" x2="293.75" y2="1843.7" stroke="#2b0a1e" stroke-width="2.3" stroke-linecap="round"/>
<rect x="187" y="1740.7" width="142.1" height="48.3" fill="none" stroke="#2b0a1e" stroke-width="2.3"/>
<line x1="187" y1="1766" x2="329.1" y2="1766" stroke="#2b0a1e" stroke-width="2.3"/>
<circle cx="257.95" cy="1678.27" r="4.1" fill="#000"/>
<circle cx="231.86" cy="1693.87" r="4.1" fill="#000"/>
<circle cx="249.07" cy="1695.21" r="4.1" fill="#000"/>
<circle cx="266.83" cy="1696.56" r="4.1" fill="#000"/>
<circle cx="284.31" cy="1693.87" r="4.1" fill="#000"/>
<circle cx="301.79" cy="1694.14" r="4.1" fill="#000"/>
<circle cx="257.95" cy="1713.77" r="4.1" fill="#000"/>
<circle cx="231.86" cy="1727.49" r="4.1" fill="#000"/>
<circle cx="284.31" cy="1726.41" r="4.1" fill="#000"/>
<circle cx="249.07" cy="1732.87" r="4.1" fill="#000"/>
<circle cx="231.86" cy="1737.44" r="4.1" fill="#000"/>
<circle cx="266.83" cy="1738.78" r="4.1" fill="#000"/>
<circle cx="301.79" cy="1737.44" r="4.1" fill="#000"/>
<circle cx="249.07" cy="1745.24" r="4.1" fill="#000"/>
<circle cx="284.31" cy="1744.16" r="4.1" fill="#000"/>
<circle cx="214.38" cy="1748.47" r="4.1" fill="#000"/>
<circle cx="266.83" cy="1748.47" r="4.1" fill="#000"/>
<circle cx="196.9" cy="1757.88" r="4.1" fill="#000"/>
<circle cx="231.86" cy="1755.19" r="4.1" fill="#000"/>
<circle cx="249.07" cy="1755.19" r="4.1" fill="#000"/>
<circle cx="214.38" cy="1760.84" r="4.1" fill="#000"/>
<circle cx="266.83" cy="1758.69" r="4.1" fill="#000"/>
<circle cx="284.31" cy="1761.65" r="4.1" fill="#000"/>
<circle cx="301.79" cy="1760.57" r="4.1" fill="#000"/>
<circle cx="319.27" cy="1762.18" r="4.1" fill="#000"/>
<circle cx="231.86" cy="1766.76" r="4.1" fill="#000"/>
<circle cx="249.07" cy="1764.87" r="4.1" fill="#000"/>
<circle cx="301.79" cy="1769.45" r="4.1" fill="#000"/>
<circle cx="214.38" cy="1773.48" r="4.1" fill="#000"/>
<circle cx="319.27" cy="1774.29" r="4.1" fill="#000"/>
<circle cx="231.86" cy="1776.17" r="4.1" fill="#000"/>
<circle cx="249.07" cy="1780.74" r="4.1" fill="#000"/>
<circle cx="284.31" cy="1782.89" r="4.1" fill="#000"/>
<circle cx="231.86" cy="1785.58" r="4.1" fill="#000"/>
<circle cx="196.9" cy="1790.42" r="4.1" fill="#000"/>
<circle cx="214.38" cy="1789.35" r="4.1" fill="#000"/>
<circle cx="249.07" cy="1790.42" r="4.1" fill="#000"/>
<circle cx="266.83" cy="1789.08" r="4.1" fill="#000"/>
<circle cx="301.79" cy="1789.08" r="4.1" fill="#000"/>
<circle cx="319.27" cy="1790.42" r="4.1" fill="#000"/>
<circle cx="231.86" cy="1797.69" r="4.1" fill="#000"/>
<circle cx="284.31" cy="1793.65" r="4.1" fill="#000"/>
<circle cx="249.07" cy="1800.38" r="4.1" fill="#000"/>
<circle cx="266.83" cy="1802.53" r="4.1" fill="#000"/>
<circle cx="231.86" cy="1810.87" r="4.1" fill="#000"/>
<circle cx="266.83" cy="1814.36" r="4.1" fill="#000"/>
<circle cx="249.07" cy="1817.86" r="4.1" fill="#000"/>
<circle cx="284.31" cy="1819.2" r="4.1" fill="#000"/>
<circle cx="231.86" cy="1822.16" r="4.1" fill="#000"/>
<circle cx="266.83" cy="1824.05" r="4.1" fill="#000"/>
<circle cx="266.83" cy="1837.76" r="4.1" fill="#000"/>
<circle cx="249.07" cy="1843.68" r="4.1" fill="#000"/>
<line x1="440.05" y1="1684.7" x2="511.95" y2="1684.7" stroke="#2f7176" stroke-width="2.3" stroke-linecap="round"/>
<line x1="476" y1="1684.7" x2="476" y2="1758.7" stroke="#2f7176" stroke-width="2.3"/>
<line x1="476" y1="1830" x2="476" y2="1893.2" stroke="#2f7176" stroke-width="2.3"/>
<line x1="440.05" y1="1893.2" x2="511.95" y2="1893.2" stroke="#2f7176" stroke-width="2.3" stroke-linecap="round"/>
<rect x="405.4" y="1758.7" width="142.4" height="71.3" fill="none" stroke="#2f7176" stroke-width="2.3"/>
<line x1="405.4" y1="1785" x2="547.8" y2="1785" stroke="#2f7176" stroke-width="2.3"/>
<circle cx="494.1" cy="1684.72" r="4.1" fill="#387a7f"/>
<circle cx="458.6" cy="1690.1" r="4.1" fill="#387a7f"/>
<circle cx="476.08" cy="1693.33" r="4.1" fill="#387a7f"/>
<circle cx="476.08" cy="1719.96" r="4.1" fill="#387a7f"/>
<circle cx="476.08" cy="1732.33" r="4.1" fill="#387a7f"/>
<circle cx="476.08" cy="1749" r="4.1" fill="#387a7f"/>
<circle cx="424.17" cy="1754.65" r="4.1" fill="#387a7f"/>
<circle cx="441.65" cy="1758.69" r="4.1" fill="#387a7f"/>
<circle cx="458.6" cy="1758.69" r="4.1" fill="#387a7f"/>
<circle cx="476.08" cy="1761.65" r="4.1" fill="#387a7f"/>
<circle cx="494.1" cy="1754.92" r="4.1" fill="#387a7f"/>
<circle cx="511.58" cy="1760.84" r="4.1" fill="#387a7f"/>
<circle cx="529.06" cy="1756" r="4.1" fill="#387a7f"/>
<circle cx="476.08" cy="1771.06" r="4.1" fill="#387a7f"/>
<circle cx="494.1" cy="1767.56" r="4.1" fill="#387a7f"/>
<circle cx="458.6" cy="1780.2" r="4.1" fill="#387a7f"/>
<circle cx="476.08" cy="1784.78" r="4.1" fill="#387a7f"/>
<circle cx="494.1" cy="1781.01" r="4.1" fill="#387a7f"/>
<circle cx="511.58" cy="1785.05" r="4.1" fill="#387a7f"/>
<circle cx="494.1" cy="1789.89" r="4.1" fill="#387a7f"/>
<circle cx="458.6" cy="1793.11" r="4.1" fill="#387a7f"/>
<circle cx="476.08" cy="1796.61" r="4.1" fill="#387a7f"/>
<circle cx="458.6" cy="1802.26" r="4.1" fill="#387a7f"/>
<circle cx="494.1" cy="1810.33" r="4.1" fill="#387a7f"/>
<circle cx="476.08" cy="1814.63" r="4.1" fill="#387a7f"/>
<circle cx="458.6" cy="1820.28" r="4.1" fill="#387a7f"/>
<circle cx="494.1" cy="1820.55" r="4.1" fill="#387a7f"/>
<circle cx="511.58" cy="1829.96" r="4.1" fill="#387a7f"/>
<circle cx="458.6" cy="1833.19" r="4.1" fill="#387a7f"/>
<circle cx="476.08" cy="1835.61" r="4.1" fill="#387a7f"/>
<circle cx="494.1" cy="1833.19" r="4.1" fill="#387a7f"/>
<circle cx="458.6" cy="1843.41" r="4.1" fill="#387a7f"/>
<circle cx="494.1" cy="1843.41" r="4.1" fill="#387a7f"/>
<circle cx="494.1" cy="1854.44" r="4.1" fill="#387a7f"/>
<circle cx="476.08" cy="1860.36" r="4.1" fill="#387a7f"/>
<circle cx="485.22" cy="1885.64" r="4.1" fill="#387a7f"/>
<circle cx="467.2" cy="1893.44" r="4.1" fill="#387a7f"/>
<text transform="translate(262.39 1939.19) rotate(-45)" font-size="22.5" text-anchor="end" stroke="#000" stroke-width="0.3">DMSO</text>
<text transform="translate(480.89 1939.19) rotate(-45)" font-size="22.5" text-anchor="end" stroke="#000" stroke-width="0.3">Rabusertib</text>
<text transform="translate(752.5 1556)" font-size="31" stroke="#000" stroke-width="0.3">H</text>
<line x1="860.5" y1="1618.6" x2="860.5" y2="1912.8" stroke="#000" stroke-width="2.8"/>
<line x1="848.5" y1="1911.4" x2="860.5" y2="1911.4" stroke="#000" stroke-width="2.8"/>
<text transform="translate(842.9 1919.47) scale(1 1.06)" font-size="21.7" text-anchor="end" stroke="#000" stroke-width="0.3">0</text>
<line x1="848.5" y1="1882.26" x2="860.5" y2="1882.26" stroke="#000" stroke-width="2.8"/>
<text transform="translate(842.9 1890.33) scale(1 1.06)" font-size="21.7" text-anchor="end" stroke="#000" stroke-width="0.3">10</text>
<line x1="848.5" y1="1853.12" x2="860.5" y2="1853.12" stroke="#000" stroke-width="2.8"/>
<text transform="translate(842.9 1861.19) scale(1 1.06)" font-size="21.7" text-anchor="end" stroke="#000" stroke-width="0.3">20</text>
<line x1="848.5" y1="1823.98" x2="860.5" y2="1823.98" stroke="#000" stroke-width="2.8"/>
<text transform="translate(842.9 1832.05) scale(1 1.06)" font-size="21.7" text-anchor="end" stroke="#000" stroke-width="0.3">30</text>
<line x1="848.5" y1="1794.84" x2="860.5" y2="1794.84" stroke="#000" stroke-width="2.8"/>
<text transform="translate(842.9 1802.91) scale(1 1.06)" font-size="21.7" text-anchor="end" stroke="#000" stroke-width="0.3">40</text>
<line x1="848.5" y1="1765.7" x2="860.5" y2="1765.7" stroke="#000" stroke-width="2.8"/>
<text transform="translate(842.9 1773.77) scale(1 1.06)" font-size="21.7" text-anchor="end" stroke="#000" stroke-width="0.3">50</text>
<line x1="848.5" y1="1736.56" x2="860.5" y2="1736.56" stroke="#000" stroke-width="2.8"/>
<text transform="translate(842.9 1744.63) scale(1 1.06)" font-size="21.7" text-anchor="end" stroke="#000" stroke-width="0.3">60</text>
<line x1="848.5" y1="1707.42" x2="860.5" y2="1707.42" stroke="#000" stroke-width="2.8"/>
<text transform="translate(842.9 1715.49) scale(1 1.06)" font-size="21.7" text-anchor="end" stroke="#000" stroke-width="0.3">70</text>
<line x1="848.5" y1="1678.28" x2="860.5" y2="1678.28" stroke="#000" stroke-width="2.8"/>
<text transform="translate(842.9 1686.35) scale(1 1.06)" font-size="21.7" text-anchor="end" stroke="#000" stroke-width="0.3">80</text>
<line x1="848.5" y1="1649.14" x2="860.5" y2="1649.14" stroke="#000" stroke-width="2.8"/>
<text transform="translate(842.9 1657.21) scale(1 1.06)" font-size="21.7" text-anchor="end" stroke="#000" stroke-width="0.3">90</text>
<line x1="848.5" y1="1620" x2="860.5" y2="1620" stroke="#000" stroke-width="2.8"/>
<text transform="translate(842.9 1628.07) scale(1 1.06)" font-size="21.7" text-anchor="end" stroke="#000" stroke-width="0.3">100</text>
<line x1="853.7" y1="1896.83" x2="860.5" y2="1896.83" stroke="#000" stroke-width="2.8"/>
<line x1="853.7" y1="1867.69" x2="860.5" y2="1867.69" stroke="#000" stroke-width="2.8"/>
<line x1="853.7" y1="1838.55" x2="860.5" y2="1838.55" stroke="#000" stroke-width="2.8"/>
<line x1="853.7" y1="1809.41" x2="860.5" y2="1809.41" stroke="#000" stroke-width="2.8"/>
<line x1="853.7" y1="1780.27" x2="860.5" y2="1780.27" stroke="#000" stroke-width="2.8"/>
<line x1="853.7" y1="1751.13" x2="860.5" y2="1751.13" stroke="#000" stroke-width="2.8"/>
<line x1="853.7" y1="1721.99" x2="860.5" y2="1721.99" stroke="#000" stroke-width="2.8"/>
<line x1="853.7" y1="1692.85" x2="860.5" y2="1692.85" stroke="#000" stroke-width="2.8"/>
<line x1="853.7" y1="1663.71" x2="860.5" y2="1663.71" stroke="#000" stroke-width="2.8"/>
<line x1="853.7" y1="1634.57" x2="860.5" y2="1634.57" stroke="#000" stroke-width="2.8"/>
<line x1="848.6" y1="1911.4" x2="1297.4" y2="1911.4" stroke="#000" stroke-width="2.8"/>
<line x1="860.6" y1="1911.4" x2="860.6" y2="1923.4" stroke="#000" stroke-width="2.8"/>
<line x1="897" y1="1911.4" x2="897" y2="1923.4" stroke="#000" stroke-width="2.8"/>
<line x1="933.4" y1="1911.4" x2="933.4" y2="1923.4" stroke="#000" stroke-width="2.8"/>
<line x1="969.8" y1="1911.4" x2="969.8" y2="1923.4" stroke="#000" stroke-width="2.8"/>
<line x1="1006.2" y1="1911.4" x2="1006.2" y2="1923.4" stroke="#000" stroke-width="2.8"/>
<line x1="1042.6" y1="1911.4" x2="1042.6" y2="1923.4" stroke="#000" stroke-width="2.8"/>
<line x1="1079" y1="1911.4" x2="1079" y2="1923.4" stroke="#000" stroke-width="2.8"/>
<line x1="1115.4" y1="1911.4" x2="1115.4" y2="1923.4" stroke="#000" stroke-width="2.8"/>
<line x1="1151.8" y1="1911.4" x2="1151.8" y2="1923.4" stroke="#000" stroke-width="2.8"/>
<line x1="1188.2" y1="1911.4" x2="1188.2" y2="1923.4" stroke="#000" stroke-width="2.8"/>
<line x1="1224.6" y1="1911.4" x2="1224.6" y2="1923.4" stroke="#000" stroke-width="2.8"/>
<line x1="1261" y1="1911.4" x2="1261" y2="1923.4" stroke="#000" stroke-width="2.8"/>
<line x1="1297.4" y1="1911.4" x2="1297.4" y2="1923.4" stroke="#000" stroke-width="2.8"/>
<line x1="878.8" y1="1911.4" x2="878.8" y2="1917.9" stroke="#000" stroke-width="2.8"/>
<line x1="915.2" y1="1911.4" x2="915.2" y2="1917.9" stroke="#000" stroke-width="2.8"/>
<line x1="951.6" y1="1911.4" x2="951.6" y2="1917.9" stroke="#000" stroke-width="2.8"/>
<line x1="988" y1="1911.4" x2="988" y2="1917.9" stroke="#000" stroke-width="2.8"/>
<line x1="1024.4" y1="1911.4" x2="1024.4" y2="1917.9" stroke="#000" stroke-width="2.8"/>
<line x1="1060.8" y1="1911.4" x2="1060.8" y2="1917.9" stroke="#000" stroke-width="2.8"/>
<line x1="1097.2" y1="1911.4" x2="1097.2" y2="1917.9" stroke="#000" stroke-width="2.8"/>
<line x1="1133.6" y1="1911.4" x2="1133.6" y2="1917.9" stroke="#000" stroke-width="2.8"/>
<line x1="1170" y1="1911.4" x2="1170" y2="1917.9" stroke="#000" stroke-width="2.8"/>
<line x1="1206.4" y1="1911.4" x2="1206.4" y2="1917.9" stroke="#000" stroke-width="2.8"/>
<line x1="1242.8" y1="1911.4" x2="1242.8" y2="1917.9" stroke="#000" stroke-width="2.8"/>
<line x1="1279.2" y1="1911.4" x2="1279.2" y2="1917.9" stroke="#000" stroke-width="2.8"/>
<text transform="translate(860.6 1947.6) scale(1 1.06)" font-size="21.7" text-anchor="middle" stroke="#000" stroke-width="0.3">0</text>
<text transform="translate(897 1947.6) scale(1 1.06)" font-size="21.7" text-anchor="middle" stroke="#000" stroke-width="0.3">1</text>
<text transform="translate(933.4 1947.6) scale(1 1.06)" font-size="21.7" text-anchor="middle" stroke="#000" stroke-width="0.3">2</text>
<text transform="translate(969.8 1947.6) scale(1 1.06)" font-size="21.7" text-anchor="middle" stroke="#000" stroke-width="0.3">3</text>
<text transform="translate(1006.2 1947.6) scale(1 1.06)" font-size="21.7" text-anchor="middle" stroke="#000" stroke-width="0.3">4</text>
<text transform="translate(1042.6 1947.6) scale(1 1.06)" font-size="21.7" text-anchor="middle" stroke="#000" stroke-width="0.3">5</text>
<text transform="translate(1079 1947.6) scale(1 1.06)" font-size="21.7" text-anchor="middle" stroke="#000" stroke-width="0.3">6</text>
<text transform="translate(1115.4 1947.6) scale(1 1.06)" font-size="21.7" text-anchor="middle" stroke="#000" stroke-width="0.3">7</text>
<text transform="translate(1151.8 1947.6) scale(1 1.06)" font-size="21.7" text-anchor="middle" stroke="#000" stroke-width="0.3">8</text>
<text transform="translate(1188.2 1947.6) scale(1 1.06)" font-size="21.7" text-anchor="middle" stroke="#000" stroke-width="0.3">9</text>
<text transform="translate(1224.6 1947.6) scale(1 1.06)" font-size="21.7" text-anchor="middle" stroke="#000" stroke-width="0.3">10</text>
<text transform="translate(1261 1947.6) scale(1 1.06)" font-size="21.7" text-anchor="middle" stroke="#000" stroke-width="0.3">11</text>
<text transform="translate(1297.4 1947.6) scale(1 1.06)" font-size="21.7" text-anchor="middle" stroke="#000" stroke-width="0.3">12</text>
<text transform="translate(1078.6 1983.6)" font-size="23.6" text-anchor="middle" stroke="#000" stroke-width="0.3">Days of adulthood</text>
<text transform="translate(791.8 1766) rotate(-90)" font-size="23.5" text-anchor="middle" stroke="#000" stroke-width="0.3">% Paralyzed</text>
<polyline points="860.6,1911.4 897,1911.2 933.4,1911 969.8,1910.8 1006.2,1910.6 1042.6,1910.3 1079,1909.8 1115.4,1889.7 1151.8,1872.3 1188.2,1854 1224.6,1829.1 1261,1806.5 1297.4,1759.3" fill="none" stroke="#387a7f" stroke-width="1.7" stroke-linejoin="round"/>
<line x1="1224.6" y1="1821.4" x2="1224.6" y2="1836.3" stroke="#387a7f" stroke-width="1.7"/>
<line x1="1218.2" y1="1821.4" x2="1231" y2="1821.4" stroke="#387a7f" stroke-width="1.7"/>
<line x1="1218.2" y1="1836.3" x2="1231" y2="1836.3" stroke="#387a7f" stroke-width="1.7"/>
<line x1="1261" y1="1798.1" x2="1261" y2="1815.8" stroke="#387a7f" stroke-width="1.7"/>
<line x1="1254.6" y1="1798.1" x2="1267.4" y2="1798.1" stroke="#387a7f" stroke-width="1.7"/>
<line x1="1254.6" y1="1815.8" x2="1267.4" y2="1815.8" stroke="#387a7f" stroke-width="1.7"/>
<line x1="1297.4" y1="1749.4" x2="1297.4" y2="1768.6" stroke="#387a7f" stroke-width="1.7"/>
<line x1="1291" y1="1749.4" x2="1303.8" y2="1749.4" stroke="#387a7f" stroke-width="1.7"/>
<line x1="1291" y1="1768.6" x2="1303.8" y2="1768.6" stroke="#387a7f" stroke-width="1.7"/>
<rect x="1073.1" y="1903.9" width="11.8" height="11.8" fill="#387a7f"/>
<rect x="1109.5" y="1883.8" width="11.8" height="11.8" fill="#387a7f"/>
<rect x="1145.9" y="1866.4" width="11.8" height="11.8" fill="#387a7f"/>
<rect x="1182.3" y="1848.1" width="11.8" height="11.8" fill="#387a7f"/>
<rect x="1218.7" y="1823.2" width="11.8" height="11.8" fill="#387a7f"/>
<rect x="1255.1" y="1800.6" width="11.8" height="11.8" fill="#387a7f"/>
<rect x="1291.5" y="1753.4" width="11.8" height="11.8" fill="#387a7f"/>
<polyline points="860.6,1911.4 897,1910.5 933.4,1909.5 969.8,1908.5 1006.2,1907.2 1042.6,1905.2 1079,1900.8 1115.4,1876.3 1151.8,1847.5 1188.2,1817.7 1224.6,1792.5 1261,1762.4 1297.4,1696.3" fill="none" stroke="#3a1228" stroke-width="1.7" stroke-linejoin="round"/>
<line x1="1115.4" y1="1871" x2="1115.4" y2="1882" stroke="#3a1228" stroke-width="1.7"/>
<line x1="1109" y1="1871" x2="1121.8" y2="1871" stroke="#3a1228" stroke-width="1.7"/>
<line x1="1109" y1="1882" x2="1121.8" y2="1882" stroke="#3a1228" stroke-width="1.7"/>
<line x1="1151.8" y1="1840.6" x2="1151.8" y2="1854.3" stroke="#3a1228" stroke-width="1.7"/>
<line x1="1145.4" y1="1840.6" x2="1158.2" y2="1840.6" stroke="#3a1228" stroke-width="1.7"/>
<line x1="1145.4" y1="1854.3" x2="1158.2" y2="1854.3" stroke="#3a1228" stroke-width="1.7"/>
<line x1="1188.2" y1="1810" x2="1188.2" y2="1825" stroke="#3a1228" stroke-width="1.7"/>
<line x1="1181.8" y1="1810" x2="1194.6" y2="1810" stroke="#3a1228" stroke-width="1.7"/>
<line x1="1181.8" y1="1825" x2="1194.6" y2="1825" stroke="#3a1228" stroke-width="1.7"/>
<line x1="1224.6" y1="1783.2" x2="1224.6" y2="1801.2" stroke="#3a1228" stroke-width="1.7"/>
<line x1="1218.2" y1="1783.2" x2="1231" y2="1783.2" stroke="#3a1228" stroke-width="1.7"/>
<line x1="1218.2" y1="1801.2" x2="1231" y2="1801.2" stroke="#3a1228" stroke-width="1.7"/>
<line x1="1261" y1="1752.5" x2="1261" y2="1771.7" stroke="#3a1228" stroke-width="1.7"/>
<line x1="1254.6" y1="1752.5" x2="1267.4" y2="1752.5" stroke="#3a1228" stroke-width="1.7"/>
<line x1="1254.6" y1="1771.7" x2="1267.4" y2="1771.7" stroke="#3a1228" stroke-width="1.7"/>
<line x1="1297.4" y1="1686.4" x2="1297.4" y2="1705.3" stroke="#3a1228" stroke-width="1.7"/>
<line x1="1291" y1="1686.4" x2="1303.8" y2="1686.4" stroke="#3a1228" stroke-width="1.7"/>
<line x1="1291" y1="1705.3" x2="1303.8" y2="1705.3" stroke="#3a1228" stroke-width="1.7"/>
<circle cx="1042.6" cy="1905.2" r="6.1" fill="#3a1228"/>
<circle cx="1079" cy="1900.8" r="6.1" fill="#3a1228"/>
<circle cx="1115.4" cy="1876.3" r="6.1" fill="#3a1228"/>
<circle cx="1151.8" cy="1847.5" r="6.1" fill="#3a1228"/>
<circle cx="1188.2" cy="1817.7" r="6.1" fill="#3a1228"/>
<circle cx="1224.6" cy="1792.5" r="6.1" fill="#3a1228"/>
<circle cx="1261" cy="1762.4" r="6.1" fill="#3a1228"/>
<circle cx="1297.4" cy="1696.3" r="6.1" fill="#3a1228"/>
<polyline points="860.6,1911.4 897,1911.4 933.4,1911.3 969.8,1911.2 1006.2,1910.8 1042.6,1909.8 1079,1908.3 1115.4,1906 1151.8,1900.5 1188.2,1887.5 1224.6,1882.5 1261,1870.1 1297.4,1850" fill="none" stroke="#2a3236" stroke-width="1.7" stroke-linejoin="round"/>
<line x1="1188.2" y1="1882.8" x2="1188.2" y2="1892" stroke="#2a3236" stroke-width="1.7"/>
<line x1="1181.8" y1="1882.8" x2="1194.6" y2="1882.8" stroke="#2a3236" stroke-width="1.7"/>
<line x1="1181.8" y1="1892" x2="1194.6" y2="1892" stroke="#2a3236" stroke-width="1.7"/>
<line x1="1224.6" y1="1876.3" x2="1224.6" y2="1888.7" stroke="#2a3236" stroke-width="1.7"/>
<line x1="1218.2" y1="1876.3" x2="1231" y2="1876.3" stroke="#2a3236" stroke-width="1.7"/>
<line x1="1218.2" y1="1888.7" x2="1231" y2="1888.7" stroke="#2a3236" stroke-width="1.7"/>
<line x1="1261" y1="1863.3" x2="1261" y2="1877" stroke="#2a3236" stroke-width="1.7"/>
<line x1="1254.6" y1="1863.3" x2="1267.4" y2="1863.3" stroke="#2a3236" stroke-width="1.7"/>
<line x1="1254.6" y1="1877" x2="1267.4" y2="1877" stroke="#2a3236" stroke-width="1.7"/>
<line x1="1297.4" y1="1841" x2="1297.4" y2="1856" stroke="#2a3236" stroke-width="1.7"/>
<line x1="1291" y1="1841" x2="1303.8" y2="1841" stroke="#2a3236" stroke-width="1.7"/>
<line x1="1291" y1="1856" x2="1303.8" y2="1856" stroke="#2a3236" stroke-width="1.7"/>
<polygon points="897,1904.27 890.49,1916.05 903.51,1916.05" fill="#2a3236"/>
<polygon points="969.8,1904.07 963.29,1915.85 976.31,1915.85" fill="#2a3236"/>
<polygon points="1006.2,1903.67 999.69,1915.45 1012.71,1915.45" fill="#2a3236"/>
<polygon points="1042.6,1902.67 1036.09,1914.45 1049.11,1914.45" fill="#2a3236"/>
<polygon points="1079,1901.17 1072.49,1912.95 1085.51,1912.95" fill="#2a3236"/>
<polygon points="1115.4,1898.87 1108.89,1910.65 1121.91,1910.65" fill="#2a3236"/>
<polygon points="1151.8,1893.37 1145.29,1905.15 1158.31,1905.15" fill="#2a3236"/>
<polygon points="1188.2,1880.37 1181.69,1892.15 1194.71,1892.15" fill="#2a3236"/>
<polygon points="1224.6,1875.37 1218.09,1887.15 1231.11,1887.15" fill="#2a3236"/>
<polygon points="1261,1862.97 1254.49,1874.75 1267.51,1874.75" fill="#2a3236"/>
<polygon points="1297.4,1842.87 1290.89,1854.65 1303.91,1854.65" fill="#2a3236"/>
<polyline points="1315.6,1688.6 1331.5,1688.6 1331.5,1756.8 1315.6,1756.8" fill="none" stroke="#000" stroke-width="3"/>
<text transform="translate(1335.2 1730.8)" font-size="23.6" stroke="#000" stroke-width="0.3">p &lt; 0.0001</text>
<line x1="874.4" y1="1841.6" x2="906" y2="1841.6" stroke="#2a3236" stroke-width="1.7"/>
<polygon points="890.4,1834.58 884,1846.17 896.8,1846.17" fill="#2a3236"/>
<text transform="translate(923.6 1848.2)" font-size="19.2" stroke="#000" stroke-width="0.3">Wild-type</text>
<line x1="874.4" y1="1867.6" x2="906" y2="1867.6" stroke="#3a1228" stroke-width="1.7"/>
<circle cx="890.4" cy="1867.6" r="6.1" fill="#3a1228"/>
<text transform="translate(922.3 1874.2)" font-size="19.2" stroke="#000" stroke-width="0.3">DMSO</text>
<line x1="874.4" y1="1892.4" x2="906" y2="1892.4" stroke="#387a7f" stroke-width="1.7"/>
<rect x="884.3" y="1886.3" width="12.2" height="12.2" fill="#387a7f"/>
<text transform="translate(922.3 1899)" font-size="19.2" stroke="#000" stroke-width="0.3">Rabusertib</text>
<text transform="translate(7.5 2066.6)" font-size="31" stroke="#000" stroke-width="0.3">I</text>
<line x1="149" y1="2123" x2="149" y2="2416.8" stroke="#000" stroke-width="2.8"/>
<line x1="137" y1="2415.4" x2="149" y2="2415.4" stroke="#000" stroke-width="2.8"/>
<text transform="translate(132.5 2423.43) scale(1 1.02)" font-size="22.5" text-anchor="end" stroke="#000" stroke-width="0.3">0</text>
<line x1="137" y1="2357.2" x2="149" y2="2357.2" stroke="#000" stroke-width="2.8"/>
<text transform="translate(132.5 2365.23) scale(1 1.02)" font-size="22.5" text-anchor="end" stroke="#000" stroke-width="0.3">50</text>
<line x1="137" y1="2299" x2="149" y2="2299" stroke="#000" stroke-width="2.8"/>
<text transform="translate(132.5 2307.03) scale(1 1.02)" font-size="22.5" text-anchor="end" stroke="#000" stroke-width="0.3">100</text>
<line x1="137" y1="2240.8" x2="149" y2="2240.8" stroke="#000" stroke-width="2.8"/>
<text transform="translate(132.5 2248.83) scale(1 1.02)" font-size="22.5" text-anchor="end" stroke="#000" stroke-width="0.3">150</text>
<line x1="137" y1="2182.6" x2="149" y2="2182.6" stroke="#000" stroke-width="2.8"/>
<text transform="translate(132.5 2190.63) scale(1 1.02)" font-size="22.5" text-anchor="end" stroke="#000" stroke-width="0.3">200</text>
<line x1="137" y1="2124.4" x2="149" y2="2124.4" stroke="#000" stroke-width="2.8"/>
<text transform="translate(132.5 2132.43) scale(1 1.02)" font-size="22.5" text-anchor="end" stroke="#000" stroke-width="0.3">250</text>
<line x1="142.2" y1="2386.3" x2="149" y2="2386.3" stroke="#000" stroke-width="2.8"/>
<line x1="142.2" y1="2328.1" x2="149" y2="2328.1" stroke="#000" stroke-width="2.8"/>
<line x1="142.2" y1="2269.9" x2="149" y2="2269.9" stroke="#000" stroke-width="2.8"/>
<line x1="142.2" y1="2211.7" x2="149" y2="2211.7" stroke="#000" stroke-width="2.8"/>
<line x1="142.2" y1="2153.5" x2="149" y2="2153.5" stroke="#000" stroke-width="2.8"/>
<line x1="137" y1="2415.4" x2="584" y2="2415.4" stroke="#000" stroke-width="2.8"/>
<line x1="274" y1="2415.4" x2="274" y2="2427.4" stroke="#000" stroke-width="2.8"/>
<line x1="461.2" y1="2415.4" x2="461.2" y2="2427.4" stroke="#000" stroke-width="2.8"/>
<text transform="translate(81.1 2269.7) rotate(-90)" font-size="23.1" text-anchor="middle" stroke="#000" stroke-width="0.3">% Iodine staining</text>
<line x1="305.8" y1="2115.3" x2="428.4" y2="2115.3" stroke="#b4b4b4" stroke-width="1"/>
<line x1="274.5" y1="2119" x2="460.2" y2="2119" stroke="#000" stroke-width="3" stroke-linecap="round"/>
<text transform="translate(366.2 2102.5)" font-size="23.6" text-anchor="middle" stroke="#000" stroke-width="0.3">p = 0.1461</text>
<line x1="243.3" y1="2183.2" x2="304.3" y2="2183.2" stroke="#000" stroke-width="4" stroke-linecap="round"/>
<line x1="273.8" y1="2183.2" x2="273.8" y2="2280.1" stroke="#000" stroke-width="4"/>
<line x1="273.8" y1="2344.9" x2="273.8" y2="2378.4" stroke="#000" stroke-width="4"/>
<line x1="243.3" y1="2378.4" x2="304.3" y2="2378.4" stroke="#000" stroke-width="4" stroke-linecap="round"/>
<rect x="215.5" y="2280.1" width="117.1" height="64.8" fill="none" stroke="#000" stroke-width="4"/>
<line x1="215.5" y1="2301.6" x2="332.6" y2="2301.6" stroke="#000" stroke-width="4"/>
<circle cx="273.82" cy="2183.17" r="4.1" fill="#000"/>
<circle cx="291.38" cy="2198.9" r="4.1" fill="#000"/>
<circle cx="273.82" cy="2205.45" r="4.1" fill="#000"/>
<circle cx="273.82" cy="2257.08" r="4.1" fill="#000"/>
<circle cx="273.82" cy="2276.47" r="4.1" fill="#000"/>
<circle cx="291.38" cy="2282.76" r="4.1" fill="#000"/>
<circle cx="273.82" cy="2286.95" r="4.1" fill="#000"/>
<circle cx="256.26" cy="2295.34" r="4.1" fill="#000"/>
<circle cx="273.82" cy="2297.43" r="4.1" fill="#000"/>
<circle cx="291.38" cy="2297.43" r="4.1" fill="#000"/>
<circle cx="256.26" cy="2305.82" r="4.1" fill="#000"/>
<circle cx="291.38" cy="2311.59" r="4.1" fill="#000"/>
<circle cx="273.82" cy="2318.92" r="4.1" fill="#000"/>
<circle cx="273.82" cy="2330.45" r="4.1" fill="#000"/>
<circle cx="256.26" cy="2348.28" r="4.1" fill="#000"/>
<circle cx="273.82" cy="2349.59" r="4.1" fill="#000"/>
<circle cx="291.38" cy="2346.18" r="4.1" fill="#000"/>
<circle cx="291.38" cy="2356.14" r="4.1" fill="#000"/>
<circle cx="273.82" cy="2364.52" r="4.1" fill="#000"/>
<circle cx="273.82" cy="2378.41" r="4.1" fill="#000"/>
<line x1="430.5" y1="2153" x2="491.3" y2="2153" stroke="#751040" stroke-width="4" stroke-linecap="round"/>
<line x1="460.9" y1="2153" x2="460.9" y2="2240.8" stroke="#751040" stroke-width="4"/>
<line x1="460.9" y1="2310.3" x2="460.9" y2="2389.7" stroke="#751040" stroke-width="4"/>
<line x1="430.5" y1="2389.7" x2="491.3" y2="2389.7" stroke="#751040" stroke-width="4" stroke-linecap="round"/>
<rect x="402.7" y="2240.8" width="117.3" height="69.5" fill="none" stroke="#751040" stroke-width="4"/>
<line x1="402.7" y1="2271" x2="520" y2="2271" stroke="#751040" stroke-width="4"/>
<circle cx="460.94" cy="2153.03" r="4.1" fill="#751040"/>
<circle cx="460.94" cy="2173.74" r="4.1" fill="#751040"/>
<circle cx="460.94" cy="2188.41" r="4.1" fill="#751040"/>
<circle cx="443.38" cy="2201.52" r="4.1" fill="#751040"/>
<circle cx="460.94" cy="2204.14" r="4.1" fill="#751040"/>
<circle cx="478.76" cy="2198.9" r="4.1" fill="#751040"/>
<circle cx="460.94" cy="2227.72" r="4.1" fill="#751040"/>
<circle cx="460.94" cy="2249.21" r="4.1" fill="#751040"/>
<circle cx="443.38" cy="2252.62" r="4.1" fill="#751040"/>
<circle cx="460.94" cy="2260.48" r="4.1" fill="#751040"/>
<circle cx="496.32" cy="2260.48" r="4.1" fill="#751040"/>
<circle cx="425.82" cy="2267.03" r="4.1" fill="#751040"/>
<circle cx="443.38" cy="2263.89" r="4.1" fill="#751040"/>
<circle cx="460.94" cy="2271.75" r="4.1" fill="#751040"/>
<circle cx="478.76" cy="2268.34" r="4.1" fill="#751040"/>
<circle cx="443.38" cy="2275.42" r="4.1" fill="#751040"/>
<circle cx="460.94" cy="2284.59" r="4.1" fill="#751040"/>
<circle cx="478.76" cy="2281.71" r="4.1" fill="#751040"/>
<circle cx="460.94" cy="2294.03" r="4.1" fill="#751040"/>
<circle cx="478.76" cy="2293.24" r="4.1" fill="#751040"/>
<circle cx="496.32" cy="2292.72" r="4.1" fill="#751040"/>
<circle cx="443.38" cy="2298.48" r="4.1" fill="#751040"/>
<circle cx="460.94" cy="2326" r="4.1" fill="#751040"/>
<circle cx="443.38" cy="2345.65" r="4.1" fill="#751040"/>
<circle cx="460.94" cy="2353.52" r="4.1" fill="#751040"/>
<circle cx="443.38" cy="2358.23" r="4.1" fill="#751040"/>
<circle cx="478.76" cy="2360.59" r="4.1" fill="#751040"/>
<circle cx="460.94" cy="2369.76" r="4.1" fill="#751040"/>
<circle cx="460.94" cy="2389.68" r="4.1" fill="#751040"/>
<text transform="translate(279.85 2447.25) rotate(-45)" font-size="24.4" text-anchor="end" stroke="#000" stroke-width="0.3">EV</text>
<text transform="translate(467.15 2447.35) rotate(-45)" font-size="24.6" text-anchor="end" stroke="#000" stroke-width="0.3"><tspan font-style="italic">aak-2</tspan></text>
<text transform="translate(759 2066.6)" font-size="31" stroke="#000" stroke-width="0.3">J</text>
<line x1="860.5" y1="2123.2" x2="860.5" y2="2416.8" stroke="#000" stroke-width="2.8"/>
<line x1="848.5" y1="2415.4" x2="860.5" y2="2415.4" stroke="#000" stroke-width="2.8"/>
<text transform="translate(843 2423.43) scale(1 1.02)" font-size="22.5" text-anchor="end" stroke="#000" stroke-width="0.3">0</text>
<line x1="848.5" y1="2366.93" x2="860.5" y2="2366.93" stroke="#000" stroke-width="2.8"/>
<text transform="translate(843 2374.97) scale(1 1.02)" font-size="22.5" text-anchor="end" stroke="#000" stroke-width="0.3">10</text>
<line x1="848.5" y1="2318.47" x2="860.5" y2="2318.47" stroke="#000" stroke-width="2.8"/>
<text transform="translate(843 2326.5) scale(1 1.02)" font-size="22.5" text-anchor="end" stroke="#000" stroke-width="0.3">20</text>
<line x1="848.5" y1="2270" x2="860.5" y2="2270" stroke="#000" stroke-width="2.8"/>
<text transform="translate(843 2278.03) scale(1 1.02)" font-size="22.5" text-anchor="end" stroke="#000" stroke-width="0.3">30</text>
<line x1="848.5" y1="2221.53" x2="860.5" y2="2221.53" stroke="#000" stroke-width="2.8"/>
<text transform="translate(843 2229.57) scale(1 1.02)" font-size="22.5" text-anchor="end" stroke="#000" stroke-width="0.3">40</text>
<line x1="848.5" y1="2173.07" x2="860.5" y2="2173.07" stroke="#000" stroke-width="2.8"/>
<text transform="translate(843 2181.1) scale(1 1.02)" font-size="22.5" text-anchor="end" stroke="#000" stroke-width="0.3">50</text>
<line x1="848.5" y1="2124.6" x2="860.5" y2="2124.6" stroke="#000" stroke-width="2.8"/>
<text transform="translate(843 2132.63) scale(1 1.02)" font-size="22.5" text-anchor="end" stroke="#000" stroke-width="0.3">60</text>
<line x1="853.7" y1="2391.17" x2="860.5" y2="2391.17" stroke="#000" stroke-width="2.8"/>
<line x1="853.7" y1="2342.7" x2="860.5" y2="2342.7" stroke="#000" stroke-width="2.8"/>
<line x1="853.7" y1="2294.23" x2="860.5" y2="2294.23" stroke="#000" stroke-width="2.8"/>
<line x1="853.7" y1="2245.77" x2="860.5" y2="2245.77" stroke="#000" stroke-width="2.8"/>
<line x1="853.7" y1="2197.3" x2="860.5" y2="2197.3" stroke="#000" stroke-width="2.8"/>
<line x1="853.7" y1="2148.83" x2="860.5" y2="2148.83" stroke="#000" stroke-width="2.8"/>
<line x1="849" y1="2415.4" x2="1296.2" y2="2415.4" stroke="#000" stroke-width="2.8"/>
<line x1="985.3" y1="2415.4" x2="985.3" y2="2427.4" stroke="#000" stroke-width="2.8"/>
<line x1="1172.5" y1="2415.4" x2="1172.5" y2="2427.4" stroke="#000" stroke-width="2.8"/>
<text transform="translate(792 2271) rotate(-90)" font-size="23.5" text-anchor="middle" stroke="#000" stroke-width="0.3">% expression</text>
<line x1="986.2" y1="2125.4" x2="1172" y2="2125.4" stroke="#000" stroke-width="3" stroke-linecap="round"/>
<text transform="translate(1078.5 2110)" font-size="23.6" text-anchor="middle" stroke="#000" stroke-width="0.3">p = 0.3605</text>
<line x1="985.3" y1="2168.8" x2="985.3" y2="2232.3" stroke="#d39a56" stroke-width="1.5"/>
<line x1="954.2" y1="2168.8" x2="1016.4" y2="2168.8" stroke="#d39a56" stroke-width="1.5" stroke-linecap="round"/>
<line x1="954.2" y1="2232.3" x2="1016.4" y2="2232.3" stroke="#d39a56" stroke-width="1.5" stroke-linecap="round"/>
<circle cx="985.3" cy="2160" r="5.5" fill="#d39a56"/>
<circle cx="985.3" cy="2179.6" r="5.5" fill="#d39a56"/>
<circle cx="985.3" cy="2263" r="5.5" fill="#d39a56"/>
<line x1="923.45" y1="2200.2" x2="1047.15" y2="2200.2" stroke="#d39a56" stroke-width="2.8"/>
<line x1="1172.5" y1="2213.2" x2="1172.5" y2="2316.3" stroke="#751040" stroke-width="1.5"/>
<line x1="1141.4" y1="2213.2" x2="1203.6" y2="2213.2" stroke="#751040" stroke-width="1.5" stroke-linecap="round"/>
<line x1="1141.4" y1="2316.3" x2="1203.6" y2="2316.3" stroke="#751040" stroke-width="1.5" stroke-linecap="round"/>
<circle cx="1172.5" cy="2200.2" r="5.5" fill="#751040"/>
<circle cx="1172.5" cy="2227.5" r="5.5" fill="#751040"/>
<circle cx="1172.5" cy="2367.1" r="5.5" fill="#751040"/>
<line x1="1110.6" y1="2264.6" x2="1234.4" y2="2264.6" stroke="#751040" stroke-width="2.8"/>
<text transform="translate(991.15 2447.25) rotate(-45)" font-size="24.4" text-anchor="end" stroke="#000" stroke-width="0.3">S1444R</text>
<text transform="translate(1178.45 2447.35) rotate(-45)" font-size="24.6" text-anchor="end" stroke="#000" stroke-width="0.3"><tspan font-style="italic">aak-2</tspan></text></svg>
</body></html>
